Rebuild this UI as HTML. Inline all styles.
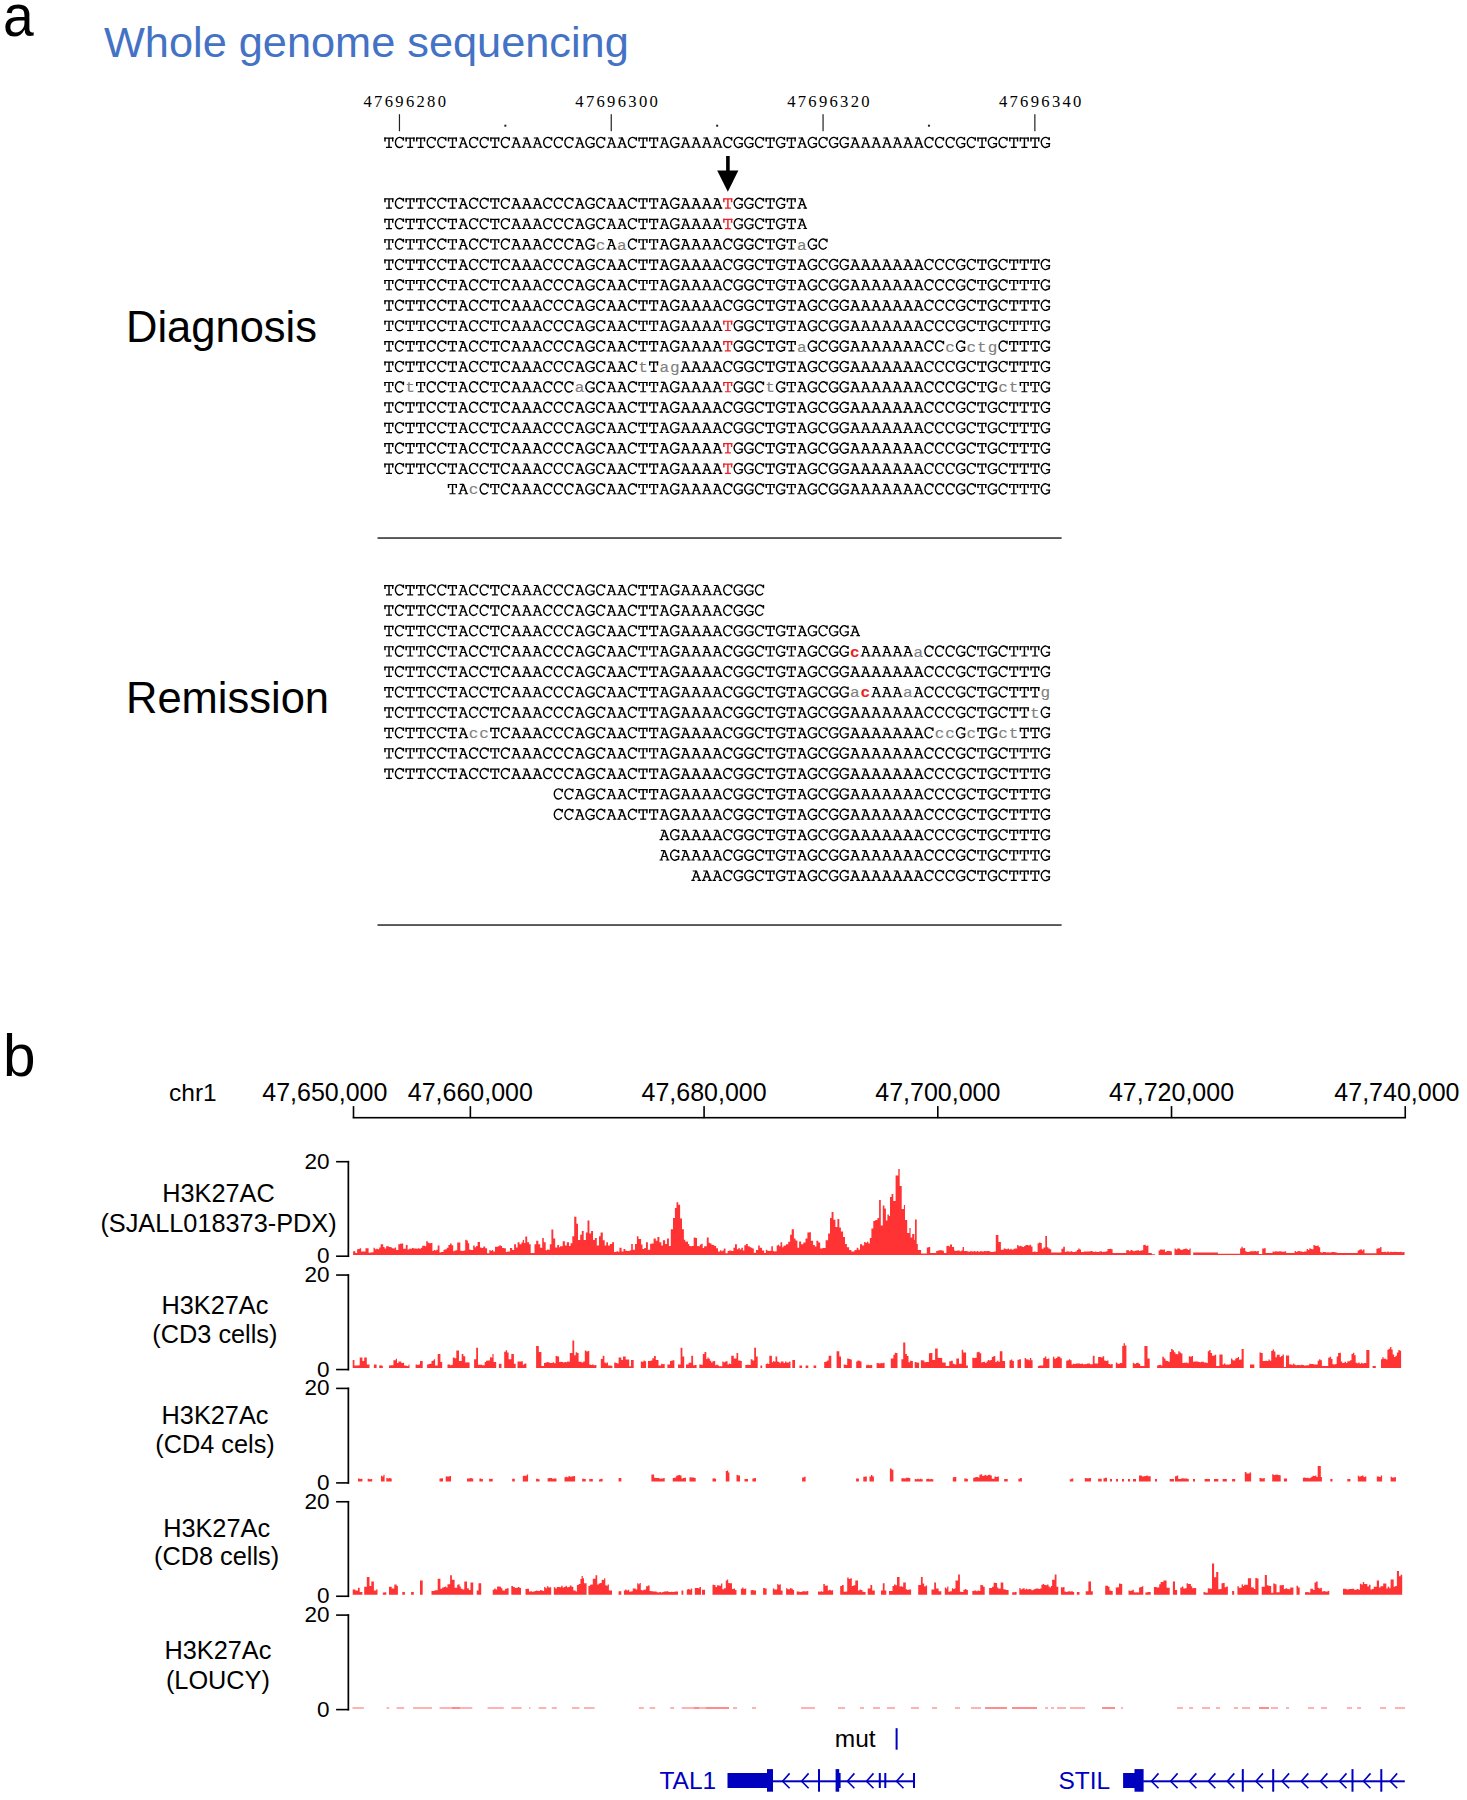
<!DOCTYPE html>
<html><head><meta charset="utf-8"><title>Figure</title>
<style>html,body{margin:0;padding:0;background:#fff;overflow:hidden;} svg{display:block;}</style>
</head><body>
<svg width="1467" height="1800" viewBox="0 0 1467 1800">
<defs><g id="gT" fill="none" stroke="currentColor"><path stroke-width="1.15" d="M0.75 -9.85H9.95M2.4 -0.6H8.45"/><path stroke-width="1.45" d="M1.4 -10.35V-6.45M9.15 -10.35V-6.45M5.45 -9.85V-0.6"/></g>
<g id="gA" fill="none" stroke="currentColor"><path stroke-width="1.12" d="M2.0 -9.95H5.6M3.4 -4.1H7.9M0.6 -0.6H4.1M6.9 -0.6H10.5"/><path stroke-width="1.25" d="M5.45 -10.3L2.1 -0.6"/><path stroke-width="1.5" d="M5.55 -10.3L9.1 -0.6"/></g>
<g id="gC" fill="none" stroke="currentColor"><path stroke-width="1.5" d="M9.2 -10.7V-7.2"/><path stroke-width="1.4" d="M8.67 -8.73A4.2 5.1 0 1 0 8.76 -2.31"/></g>
<g id="gG" fill="none" stroke="currentColor"><path stroke-width="1.5" d="M9.0 -10.7V-7.6"/><path stroke-width="1.4" d="M8.67 -8.73A4.2 5.1 0 1 0 7.42 -0.95L9.05 -1.6V-4.35"/><path stroke-width="1.15" d="M5.8 -4.3H10.1"/></g>
</defs>
<rect width="1467" height="1800" fill="#fff"/>
<text x="1.50" y="35.60" font-family="Liberation Sans" font-size="60" fill="#000" text-anchor="start" font-weight="normal" transform="translate(19.2 0) scale(0.92 1) translate(-19.2 0)">a</text>
<text x="104.00" y="56.50" font-family="Liberation Sans" font-size="43.3" fill="#4472C4" text-anchor="start" font-weight="normal" >Whole genome sequencing</text>
<text x="126.00" y="341.70" font-family="Liberation Sans" font-size="43.5" fill="#000" text-anchor="start" font-weight="normal" >Diagnosis</text>
<text x="126.00" y="713.20" font-family="Liberation Sans" font-size="43.5" fill="#000" text-anchor="start" font-weight="normal" >Remission</text>
<text x="363.53 374.12 384.71 395.30 405.89 416.48 427.07 437.66" y="107.3" font-family="Liberation Serif" font-size="16.6" fill="#000">47696280</text>
<rect x="398.85" y="114.2" width="1.2" height="17" fill="#222"/>
<text x="575.34 585.92 596.51 607.11 617.69 628.28 638.88 649.46" y="107.3" font-family="Liberation Serif" font-size="16.6" fill="#000">47696300</text>
<rect x="610.65" y="114.2" width="1.2" height="17" fill="#222"/>
<text x="787.13 797.72 808.32 818.90 829.49 840.09 850.67 861.26" y="107.3" font-family="Liberation Serif" font-size="16.6" fill="#000">47696320</text>
<rect x="822.46" y="114.2" width="1.2" height="17" fill="#222"/>
<text x="998.93 1009.52 1020.12 1030.70 1041.30 1051.88 1062.47 1073.07" y="107.3" font-family="Liberation Serif" font-size="16.6" fill="#000">47696340</text>
<rect x="1034.26" y="114.2" width="1.2" height="17" fill="#222"/>
<rect x="504.36" y="124.7" width="2" height="2" fill="#222"/>
<rect x="716.15" y="124.7" width="2" height="2" fill="#222"/>
<rect x="927.95" y="124.7" width="2" height="2" fill="#222"/>
<use href="#gT" x="383.57" y="147.90"/>
<use href="#gC" x="394.16" y="147.90"/>
<use href="#gT" x="404.75" y="147.90"/>
<use href="#gT" x="415.34" y="147.90"/>
<use href="#gC" x="425.93" y="147.90"/>
<use href="#gC" x="436.52" y="147.90"/>
<use href="#gT" x="447.11" y="147.90"/>
<use href="#gA" x="457.70" y="147.90"/>
<use href="#gC" x="468.29" y="147.90"/>
<use href="#gC" x="478.88" y="147.90"/>
<use href="#gT" x="489.47" y="147.90"/>
<use href="#gC" x="500.06" y="147.90"/>
<use href="#gA" x="510.65" y="147.90"/>
<use href="#gA" x="521.24" y="147.90"/>
<use href="#gA" x="531.83" y="147.90"/>
<use href="#gC" x="542.42" y="147.90"/>
<use href="#gC" x="553.01" y="147.90"/>
<use href="#gC" x="563.60" y="147.90"/>
<use href="#gA" x="574.19" y="147.90"/>
<use href="#gG" x="584.78" y="147.90"/>
<use href="#gC" x="595.37" y="147.90"/>
<use href="#gA" x="605.96" y="147.90"/>
<use href="#gA" x="616.55" y="147.90"/>
<use href="#gC" x="627.14" y="147.90"/>
<use href="#gT" x="637.73" y="147.90"/>
<use href="#gT" x="648.32" y="147.90"/>
<use href="#gA" x="658.91" y="147.90"/>
<use href="#gG" x="669.50" y="147.90"/>
<use href="#gA" x="680.09" y="147.90"/>
<use href="#gA" x="690.68" y="147.90"/>
<use href="#gA" x="701.27" y="147.90"/>
<use href="#gA" x="711.86" y="147.90"/>
<use href="#gC" x="722.45" y="147.90"/>
<use href="#gG" x="733.04" y="147.90"/>
<use href="#gG" x="743.63" y="147.90"/>
<use href="#gC" x="754.22" y="147.90"/>
<use href="#gT" x="764.81" y="147.90"/>
<use href="#gG" x="775.40" y="147.90"/>
<use href="#gT" x="785.99" y="147.90"/>
<use href="#gA" x="796.58" y="147.90"/>
<use href="#gG" x="807.17" y="147.90"/>
<use href="#gC" x="817.76" y="147.90"/>
<use href="#gG" x="828.35" y="147.90"/>
<use href="#gG" x="838.94" y="147.90"/>
<use href="#gA" x="849.53" y="147.90"/>
<use href="#gA" x="860.12" y="147.90"/>
<use href="#gA" x="870.71" y="147.90"/>
<use href="#gA" x="881.30" y="147.90"/>
<use href="#gA" x="891.89" y="147.90"/>
<use href="#gA" x="902.48" y="147.90"/>
<use href="#gA" x="913.07" y="147.90"/>
<use href="#gC" x="923.66" y="147.90"/>
<use href="#gC" x="934.25" y="147.90"/>
<use href="#gC" x="944.84" y="147.90"/>
<use href="#gG" x="955.43" y="147.90"/>
<use href="#gC" x="966.02" y="147.90"/>
<use href="#gT" x="976.61" y="147.90"/>
<use href="#gG" x="987.20" y="147.90"/>
<use href="#gC" x="997.79" y="147.90"/>
<use href="#gT" x="1008.38" y="147.90"/>
<use href="#gT" x="1018.97" y="147.90"/>
<use href="#gT" x="1029.56" y="147.90"/>
<use href="#gG" x="1040.15" y="147.90"/>
<rect x="726.1" y="156" width="3.6" height="15.5" fill="#000"/>
<polygon points="717.2,170.4 738.4,170.4 727.8,191.8" fill="#000"/>
<use href="#gT" x="383.57" y="208.75"/>
<use href="#gC" x="394.16" y="208.75"/>
<use href="#gT" x="404.75" y="208.75"/>
<use href="#gT" x="415.34" y="208.75"/>
<use href="#gC" x="425.93" y="208.75"/>
<use href="#gC" x="436.52" y="208.75"/>
<use href="#gT" x="447.11" y="208.75"/>
<use href="#gA" x="457.70" y="208.75"/>
<use href="#gC" x="468.29" y="208.75"/>
<use href="#gC" x="478.88" y="208.75"/>
<use href="#gT" x="489.47" y="208.75"/>
<use href="#gC" x="500.06" y="208.75"/>
<use href="#gA" x="510.65" y="208.75"/>
<use href="#gA" x="521.24" y="208.75"/>
<use href="#gA" x="531.83" y="208.75"/>
<use href="#gC" x="542.42" y="208.75"/>
<use href="#gC" x="553.01" y="208.75"/>
<use href="#gC" x="563.60" y="208.75"/>
<use href="#gA" x="574.19" y="208.75"/>
<use href="#gG" x="584.78" y="208.75"/>
<use href="#gC" x="595.37" y="208.75"/>
<use href="#gA" x="605.96" y="208.75"/>
<use href="#gA" x="616.55" y="208.75"/>
<use href="#gC" x="627.14" y="208.75"/>
<use href="#gT" x="637.73" y="208.75"/>
<use href="#gT" x="648.32" y="208.75"/>
<use href="#gA" x="658.91" y="208.75"/>
<use href="#gG" x="669.50" y="208.75"/>
<use href="#gA" x="680.09" y="208.75"/>
<use href="#gA" x="690.68" y="208.75"/>
<use href="#gA" x="701.27" y="208.75"/>
<use href="#gA" x="711.86" y="208.75"/>
<use href="#gT" x="722.45" y="208.75" color="#ec1f24"/>
<use href="#gG" x="733.04" y="208.75"/>
<use href="#gG" x="743.63" y="208.75"/>
<use href="#gC" x="754.22" y="208.75"/>
<use href="#gT" x="764.81" y="208.75"/>
<use href="#gG" x="775.40" y="208.75"/>
<use href="#gT" x="785.99" y="208.75"/>
<use href="#gA" x="796.58" y="208.75"/>
<use href="#gT" x="383.57" y="229.15"/>
<use href="#gC" x="394.16" y="229.15"/>
<use href="#gT" x="404.75" y="229.15"/>
<use href="#gT" x="415.34" y="229.15"/>
<use href="#gC" x="425.93" y="229.15"/>
<use href="#gC" x="436.52" y="229.15"/>
<use href="#gT" x="447.11" y="229.15"/>
<use href="#gA" x="457.70" y="229.15"/>
<use href="#gC" x="468.29" y="229.15"/>
<use href="#gC" x="478.88" y="229.15"/>
<use href="#gT" x="489.47" y="229.15"/>
<use href="#gC" x="500.06" y="229.15"/>
<use href="#gA" x="510.65" y="229.15"/>
<use href="#gA" x="521.24" y="229.15"/>
<use href="#gA" x="531.83" y="229.15"/>
<use href="#gC" x="542.42" y="229.15"/>
<use href="#gC" x="553.01" y="229.15"/>
<use href="#gC" x="563.60" y="229.15"/>
<use href="#gA" x="574.19" y="229.15"/>
<use href="#gG" x="584.78" y="229.15"/>
<use href="#gC" x="595.37" y="229.15"/>
<use href="#gA" x="605.96" y="229.15"/>
<use href="#gA" x="616.55" y="229.15"/>
<use href="#gC" x="627.14" y="229.15"/>
<use href="#gT" x="637.73" y="229.15"/>
<use href="#gT" x="648.32" y="229.15"/>
<use href="#gA" x="658.91" y="229.15"/>
<use href="#gG" x="669.50" y="229.15"/>
<use href="#gA" x="680.09" y="229.15"/>
<use href="#gA" x="690.68" y="229.15"/>
<use href="#gA" x="701.27" y="229.15"/>
<use href="#gA" x="711.86" y="229.15"/>
<use href="#gT" x="722.45" y="229.15" color="#ec1f24"/>
<use href="#gG" x="733.04" y="229.15"/>
<use href="#gG" x="743.63" y="229.15"/>
<use href="#gC" x="754.22" y="229.15"/>
<use href="#gT" x="764.81" y="229.15"/>
<use href="#gG" x="775.40" y="229.15"/>
<use href="#gT" x="785.99" y="229.15"/>
<use href="#gA" x="796.58" y="229.15"/>
<use href="#gT" x="383.57" y="249.55"/>
<use href="#gC" x="394.16" y="249.55"/>
<use href="#gT" x="404.75" y="249.55"/>
<use href="#gT" x="415.34" y="249.55"/>
<use href="#gC" x="425.93" y="249.55"/>
<use href="#gC" x="436.52" y="249.55"/>
<use href="#gT" x="447.11" y="249.55"/>
<use href="#gA" x="457.70" y="249.55"/>
<use href="#gC" x="468.29" y="249.55"/>
<use href="#gC" x="478.88" y="249.55"/>
<use href="#gT" x="489.47" y="249.55"/>
<use href="#gC" x="500.06" y="249.55"/>
<use href="#gA" x="510.65" y="249.55"/>
<use href="#gA" x="521.24" y="249.55"/>
<use href="#gA" x="531.83" y="249.55"/>
<use href="#gC" x="542.42" y="249.55"/>
<use href="#gC" x="553.01" y="249.55"/>
<use href="#gC" x="563.60" y="249.55"/>
<use href="#gA" x="574.19" y="249.55"/>
<use href="#gG" x="584.78" y="249.55"/>
<use href="#gA" x="605.96" y="249.55"/>
<use href="#gC" x="627.14" y="249.55"/>
<use href="#gT" x="637.73" y="249.55"/>
<use href="#gT" x="648.32" y="249.55"/>
<use href="#gA" x="658.91" y="249.55"/>
<use href="#gG" x="669.50" y="249.55"/>
<use href="#gA" x="680.09" y="249.55"/>
<use href="#gA" x="690.68" y="249.55"/>
<use href="#gA" x="701.27" y="249.55"/>
<use href="#gA" x="711.86" y="249.55"/>
<use href="#gC" x="722.45" y="249.55"/>
<use href="#gG" x="733.04" y="249.55"/>
<use href="#gG" x="743.63" y="249.55"/>
<use href="#gC" x="754.22" y="249.55"/>
<use href="#gT" x="764.81" y="249.55"/>
<use href="#gG" x="775.40" y="249.55"/>
<use href="#gT" x="785.99" y="249.55"/>
<use href="#gG" x="807.17" y="249.55"/>
<use href="#gC" x="817.76" y="249.55"/>
<text x="556.87 576.66 744.92" y="249.55" font-family="Liberation Mono" font-size="15.0" fill="#7f7f7f" font-weight="normal" stroke="#7f7f7f" stroke-width="0.12" transform="scale(1.07 1)">caa</text>
<use href="#gT" x="383.57" y="269.95"/>
<use href="#gC" x="394.16" y="269.95"/>
<use href="#gT" x="404.75" y="269.95"/>
<use href="#gT" x="415.34" y="269.95"/>
<use href="#gC" x="425.93" y="269.95"/>
<use href="#gC" x="436.52" y="269.95"/>
<use href="#gT" x="447.11" y="269.95"/>
<use href="#gA" x="457.70" y="269.95"/>
<use href="#gC" x="468.29" y="269.95"/>
<use href="#gC" x="478.88" y="269.95"/>
<use href="#gT" x="489.47" y="269.95"/>
<use href="#gC" x="500.06" y="269.95"/>
<use href="#gA" x="510.65" y="269.95"/>
<use href="#gA" x="521.24" y="269.95"/>
<use href="#gA" x="531.83" y="269.95"/>
<use href="#gC" x="542.42" y="269.95"/>
<use href="#gC" x="553.01" y="269.95"/>
<use href="#gC" x="563.60" y="269.95"/>
<use href="#gA" x="574.19" y="269.95"/>
<use href="#gG" x="584.78" y="269.95"/>
<use href="#gC" x="595.37" y="269.95"/>
<use href="#gA" x="605.96" y="269.95"/>
<use href="#gA" x="616.55" y="269.95"/>
<use href="#gC" x="627.14" y="269.95"/>
<use href="#gT" x="637.73" y="269.95"/>
<use href="#gT" x="648.32" y="269.95"/>
<use href="#gA" x="658.91" y="269.95"/>
<use href="#gG" x="669.50" y="269.95"/>
<use href="#gA" x="680.09" y="269.95"/>
<use href="#gA" x="690.68" y="269.95"/>
<use href="#gA" x="701.27" y="269.95"/>
<use href="#gA" x="711.86" y="269.95"/>
<use href="#gC" x="722.45" y="269.95"/>
<use href="#gG" x="733.04" y="269.95"/>
<use href="#gG" x="743.63" y="269.95"/>
<use href="#gC" x="754.22" y="269.95"/>
<use href="#gT" x="764.81" y="269.95"/>
<use href="#gG" x="775.40" y="269.95"/>
<use href="#gT" x="785.99" y="269.95"/>
<use href="#gA" x="796.58" y="269.95"/>
<use href="#gG" x="807.17" y="269.95"/>
<use href="#gC" x="817.76" y="269.95"/>
<use href="#gG" x="828.35" y="269.95"/>
<use href="#gG" x="838.94" y="269.95"/>
<use href="#gA" x="849.53" y="269.95"/>
<use href="#gA" x="860.12" y="269.95"/>
<use href="#gA" x="870.71" y="269.95"/>
<use href="#gA" x="881.30" y="269.95"/>
<use href="#gA" x="891.89" y="269.95"/>
<use href="#gA" x="902.48" y="269.95"/>
<use href="#gA" x="913.07" y="269.95"/>
<use href="#gC" x="923.66" y="269.95"/>
<use href="#gC" x="934.25" y="269.95"/>
<use href="#gC" x="944.84" y="269.95"/>
<use href="#gG" x="955.43" y="269.95"/>
<use href="#gC" x="966.02" y="269.95"/>
<use href="#gT" x="976.61" y="269.95"/>
<use href="#gG" x="987.20" y="269.95"/>
<use href="#gC" x="997.79" y="269.95"/>
<use href="#gT" x="1008.38" y="269.95"/>
<use href="#gT" x="1018.97" y="269.95"/>
<use href="#gT" x="1029.56" y="269.95"/>
<use href="#gG" x="1040.15" y="269.95"/>
<use href="#gT" x="383.57" y="290.35"/>
<use href="#gC" x="394.16" y="290.35"/>
<use href="#gT" x="404.75" y="290.35"/>
<use href="#gT" x="415.34" y="290.35"/>
<use href="#gC" x="425.93" y="290.35"/>
<use href="#gC" x="436.52" y="290.35"/>
<use href="#gT" x="447.11" y="290.35"/>
<use href="#gA" x="457.70" y="290.35"/>
<use href="#gC" x="468.29" y="290.35"/>
<use href="#gC" x="478.88" y="290.35"/>
<use href="#gT" x="489.47" y="290.35"/>
<use href="#gC" x="500.06" y="290.35"/>
<use href="#gA" x="510.65" y="290.35"/>
<use href="#gA" x="521.24" y="290.35"/>
<use href="#gA" x="531.83" y="290.35"/>
<use href="#gC" x="542.42" y="290.35"/>
<use href="#gC" x="553.01" y="290.35"/>
<use href="#gC" x="563.60" y="290.35"/>
<use href="#gA" x="574.19" y="290.35"/>
<use href="#gG" x="584.78" y="290.35"/>
<use href="#gC" x="595.37" y="290.35"/>
<use href="#gA" x="605.96" y="290.35"/>
<use href="#gA" x="616.55" y="290.35"/>
<use href="#gC" x="627.14" y="290.35"/>
<use href="#gT" x="637.73" y="290.35"/>
<use href="#gT" x="648.32" y="290.35"/>
<use href="#gA" x="658.91" y="290.35"/>
<use href="#gG" x="669.50" y="290.35"/>
<use href="#gA" x="680.09" y="290.35"/>
<use href="#gA" x="690.68" y="290.35"/>
<use href="#gA" x="701.27" y="290.35"/>
<use href="#gA" x="711.86" y="290.35"/>
<use href="#gC" x="722.45" y="290.35"/>
<use href="#gG" x="733.04" y="290.35"/>
<use href="#gG" x="743.63" y="290.35"/>
<use href="#gC" x="754.22" y="290.35"/>
<use href="#gT" x="764.81" y="290.35"/>
<use href="#gG" x="775.40" y="290.35"/>
<use href="#gT" x="785.99" y="290.35"/>
<use href="#gA" x="796.58" y="290.35"/>
<use href="#gG" x="807.17" y="290.35"/>
<use href="#gC" x="817.76" y="290.35"/>
<use href="#gG" x="828.35" y="290.35"/>
<use href="#gG" x="838.94" y="290.35"/>
<use href="#gA" x="849.53" y="290.35"/>
<use href="#gA" x="860.12" y="290.35"/>
<use href="#gA" x="870.71" y="290.35"/>
<use href="#gA" x="881.30" y="290.35"/>
<use href="#gA" x="891.89" y="290.35"/>
<use href="#gA" x="902.48" y="290.35"/>
<use href="#gA" x="913.07" y="290.35"/>
<use href="#gC" x="923.66" y="290.35"/>
<use href="#gC" x="934.25" y="290.35"/>
<use href="#gC" x="944.84" y="290.35"/>
<use href="#gG" x="955.43" y="290.35"/>
<use href="#gC" x="966.02" y="290.35"/>
<use href="#gT" x="976.61" y="290.35"/>
<use href="#gG" x="987.20" y="290.35"/>
<use href="#gC" x="997.79" y="290.35"/>
<use href="#gT" x="1008.38" y="290.35"/>
<use href="#gT" x="1018.97" y="290.35"/>
<use href="#gT" x="1029.56" y="290.35"/>
<use href="#gG" x="1040.15" y="290.35"/>
<use href="#gT" x="383.57" y="310.75"/>
<use href="#gC" x="394.16" y="310.75"/>
<use href="#gT" x="404.75" y="310.75"/>
<use href="#gT" x="415.34" y="310.75"/>
<use href="#gC" x="425.93" y="310.75"/>
<use href="#gC" x="436.52" y="310.75"/>
<use href="#gT" x="447.11" y="310.75"/>
<use href="#gA" x="457.70" y="310.75"/>
<use href="#gC" x="468.29" y="310.75"/>
<use href="#gC" x="478.88" y="310.75"/>
<use href="#gT" x="489.47" y="310.75"/>
<use href="#gC" x="500.06" y="310.75"/>
<use href="#gA" x="510.65" y="310.75"/>
<use href="#gA" x="521.24" y="310.75"/>
<use href="#gA" x="531.83" y="310.75"/>
<use href="#gC" x="542.42" y="310.75"/>
<use href="#gC" x="553.01" y="310.75"/>
<use href="#gC" x="563.60" y="310.75"/>
<use href="#gA" x="574.19" y="310.75"/>
<use href="#gG" x="584.78" y="310.75"/>
<use href="#gC" x="595.37" y="310.75"/>
<use href="#gA" x="605.96" y="310.75"/>
<use href="#gA" x="616.55" y="310.75"/>
<use href="#gC" x="627.14" y="310.75"/>
<use href="#gT" x="637.73" y="310.75"/>
<use href="#gT" x="648.32" y="310.75"/>
<use href="#gA" x="658.91" y="310.75"/>
<use href="#gG" x="669.50" y="310.75"/>
<use href="#gA" x="680.09" y="310.75"/>
<use href="#gA" x="690.68" y="310.75"/>
<use href="#gA" x="701.27" y="310.75"/>
<use href="#gA" x="711.86" y="310.75"/>
<use href="#gC" x="722.45" y="310.75"/>
<use href="#gG" x="733.04" y="310.75"/>
<use href="#gG" x="743.63" y="310.75"/>
<use href="#gC" x="754.22" y="310.75"/>
<use href="#gT" x="764.81" y="310.75"/>
<use href="#gG" x="775.40" y="310.75"/>
<use href="#gT" x="785.99" y="310.75"/>
<use href="#gA" x="796.58" y="310.75"/>
<use href="#gG" x="807.17" y="310.75"/>
<use href="#gC" x="817.76" y="310.75"/>
<use href="#gG" x="828.35" y="310.75"/>
<use href="#gG" x="838.94" y="310.75"/>
<use href="#gA" x="849.53" y="310.75"/>
<use href="#gA" x="860.12" y="310.75"/>
<use href="#gA" x="870.71" y="310.75"/>
<use href="#gA" x="881.30" y="310.75"/>
<use href="#gA" x="891.89" y="310.75"/>
<use href="#gA" x="902.48" y="310.75"/>
<use href="#gA" x="913.07" y="310.75"/>
<use href="#gC" x="923.66" y="310.75"/>
<use href="#gC" x="934.25" y="310.75"/>
<use href="#gC" x="944.84" y="310.75"/>
<use href="#gG" x="955.43" y="310.75"/>
<use href="#gC" x="966.02" y="310.75"/>
<use href="#gT" x="976.61" y="310.75"/>
<use href="#gG" x="987.20" y="310.75"/>
<use href="#gC" x="997.79" y="310.75"/>
<use href="#gT" x="1008.38" y="310.75"/>
<use href="#gT" x="1018.97" y="310.75"/>
<use href="#gT" x="1029.56" y="310.75"/>
<use href="#gG" x="1040.15" y="310.75"/>
<use href="#gT" x="383.57" y="331.15"/>
<use href="#gC" x="394.16" y="331.15"/>
<use href="#gT" x="404.75" y="331.15"/>
<use href="#gT" x="415.34" y="331.15"/>
<use href="#gC" x="425.93" y="331.15"/>
<use href="#gC" x="436.52" y="331.15"/>
<use href="#gT" x="447.11" y="331.15"/>
<use href="#gA" x="457.70" y="331.15"/>
<use href="#gC" x="468.29" y="331.15"/>
<use href="#gC" x="478.88" y="331.15"/>
<use href="#gT" x="489.47" y="331.15"/>
<use href="#gC" x="500.06" y="331.15"/>
<use href="#gA" x="510.65" y="331.15"/>
<use href="#gA" x="521.24" y="331.15"/>
<use href="#gA" x="531.83" y="331.15"/>
<use href="#gC" x="542.42" y="331.15"/>
<use href="#gC" x="553.01" y="331.15"/>
<use href="#gC" x="563.60" y="331.15"/>
<use href="#gA" x="574.19" y="331.15"/>
<use href="#gG" x="584.78" y="331.15"/>
<use href="#gC" x="595.37" y="331.15"/>
<use href="#gA" x="605.96" y="331.15"/>
<use href="#gA" x="616.55" y="331.15"/>
<use href="#gC" x="627.14" y="331.15"/>
<use href="#gT" x="637.73" y="331.15"/>
<use href="#gT" x="648.32" y="331.15"/>
<use href="#gA" x="658.91" y="331.15"/>
<use href="#gG" x="669.50" y="331.15"/>
<use href="#gA" x="680.09" y="331.15"/>
<use href="#gA" x="690.68" y="331.15"/>
<use href="#gA" x="701.27" y="331.15"/>
<use href="#gA" x="711.86" y="331.15"/>
<use href="#gT" x="722.45" y="331.15" color="#ec1f24"/>
<use href="#gG" x="733.04" y="331.15"/>
<use href="#gG" x="743.63" y="331.15"/>
<use href="#gC" x="754.22" y="331.15"/>
<use href="#gT" x="764.81" y="331.15"/>
<use href="#gG" x="775.40" y="331.15"/>
<use href="#gT" x="785.99" y="331.15"/>
<use href="#gA" x="796.58" y="331.15"/>
<use href="#gG" x="807.17" y="331.15"/>
<use href="#gC" x="817.76" y="331.15"/>
<use href="#gG" x="828.35" y="331.15"/>
<use href="#gG" x="838.94" y="331.15"/>
<use href="#gA" x="849.53" y="331.15"/>
<use href="#gA" x="860.12" y="331.15"/>
<use href="#gA" x="870.71" y="331.15"/>
<use href="#gA" x="881.30" y="331.15"/>
<use href="#gA" x="891.89" y="331.15"/>
<use href="#gA" x="902.48" y="331.15"/>
<use href="#gA" x="913.07" y="331.15"/>
<use href="#gC" x="923.66" y="331.15"/>
<use href="#gC" x="934.25" y="331.15"/>
<use href="#gC" x="944.84" y="331.15"/>
<use href="#gG" x="955.43" y="331.15"/>
<use href="#gC" x="966.02" y="331.15"/>
<use href="#gT" x="976.61" y="331.15"/>
<use href="#gG" x="987.20" y="331.15"/>
<use href="#gC" x="997.79" y="331.15"/>
<use href="#gT" x="1008.38" y="331.15"/>
<use href="#gT" x="1018.97" y="331.15"/>
<use href="#gT" x="1029.56" y="331.15"/>
<use href="#gG" x="1040.15" y="331.15"/>
<use href="#gT" x="383.57" y="351.55"/>
<use href="#gC" x="394.16" y="351.55"/>
<use href="#gT" x="404.75" y="351.55"/>
<use href="#gT" x="415.34" y="351.55"/>
<use href="#gC" x="425.93" y="351.55"/>
<use href="#gC" x="436.52" y="351.55"/>
<use href="#gT" x="447.11" y="351.55"/>
<use href="#gA" x="457.70" y="351.55"/>
<use href="#gC" x="468.29" y="351.55"/>
<use href="#gC" x="478.88" y="351.55"/>
<use href="#gT" x="489.47" y="351.55"/>
<use href="#gC" x="500.06" y="351.55"/>
<use href="#gA" x="510.65" y="351.55"/>
<use href="#gA" x="521.24" y="351.55"/>
<use href="#gA" x="531.83" y="351.55"/>
<use href="#gC" x="542.42" y="351.55"/>
<use href="#gC" x="553.01" y="351.55"/>
<use href="#gC" x="563.60" y="351.55"/>
<use href="#gA" x="574.19" y="351.55"/>
<use href="#gG" x="584.78" y="351.55"/>
<use href="#gC" x="595.37" y="351.55"/>
<use href="#gA" x="605.96" y="351.55"/>
<use href="#gA" x="616.55" y="351.55"/>
<use href="#gC" x="627.14" y="351.55"/>
<use href="#gT" x="637.73" y="351.55"/>
<use href="#gT" x="648.32" y="351.55"/>
<use href="#gA" x="658.91" y="351.55"/>
<use href="#gG" x="669.50" y="351.55"/>
<use href="#gA" x="680.09" y="351.55"/>
<use href="#gA" x="690.68" y="351.55"/>
<use href="#gA" x="701.27" y="351.55"/>
<use href="#gA" x="711.86" y="351.55"/>
<use href="#gT" x="722.45" y="351.55" color="#ec1f24"/>
<use href="#gG" x="733.04" y="351.55"/>
<use href="#gG" x="743.63" y="351.55"/>
<use href="#gC" x="754.22" y="351.55"/>
<use href="#gT" x="764.81" y="351.55"/>
<use href="#gG" x="775.40" y="351.55"/>
<use href="#gT" x="785.99" y="351.55"/>
<use href="#gG" x="807.17" y="351.55"/>
<use href="#gC" x="817.76" y="351.55"/>
<use href="#gG" x="828.35" y="351.55"/>
<use href="#gG" x="838.94" y="351.55"/>
<use href="#gA" x="849.53" y="351.55"/>
<use href="#gA" x="860.12" y="351.55"/>
<use href="#gA" x="870.71" y="351.55"/>
<use href="#gA" x="881.30" y="351.55"/>
<use href="#gA" x="891.89" y="351.55"/>
<use href="#gA" x="902.48" y="351.55"/>
<use href="#gA" x="913.07" y="351.55"/>
<use href="#gC" x="923.66" y="351.55"/>
<use href="#gC" x="934.25" y="351.55"/>
<use href="#gG" x="955.43" y="351.55"/>
<use href="#gC" x="997.79" y="351.55"/>
<use href="#gT" x="1008.38" y="351.55"/>
<use href="#gT" x="1018.97" y="351.55"/>
<use href="#gT" x="1029.56" y="351.55"/>
<use href="#gG" x="1040.15" y="351.55"/>
<text x="744.92 883.48 903.27 913.17 923.07" y="351.55" font-family="Liberation Mono" font-size="15.0" fill="#7f7f7f" font-weight="normal" stroke="#7f7f7f" stroke-width="0.12" transform="scale(1.07 1)">acctg</text>
<use href="#gT" x="383.57" y="371.95"/>
<use href="#gC" x="394.16" y="371.95"/>
<use href="#gT" x="404.75" y="371.95"/>
<use href="#gT" x="415.34" y="371.95"/>
<use href="#gC" x="425.93" y="371.95"/>
<use href="#gC" x="436.52" y="371.95"/>
<use href="#gT" x="447.11" y="371.95"/>
<use href="#gA" x="457.70" y="371.95"/>
<use href="#gC" x="468.29" y="371.95"/>
<use href="#gC" x="478.88" y="371.95"/>
<use href="#gT" x="489.47" y="371.95"/>
<use href="#gC" x="500.06" y="371.95"/>
<use href="#gA" x="510.65" y="371.95"/>
<use href="#gA" x="521.24" y="371.95"/>
<use href="#gA" x="531.83" y="371.95"/>
<use href="#gC" x="542.42" y="371.95"/>
<use href="#gC" x="553.01" y="371.95"/>
<use href="#gC" x="563.60" y="371.95"/>
<use href="#gA" x="574.19" y="371.95"/>
<use href="#gG" x="584.78" y="371.95"/>
<use href="#gC" x="595.37" y="371.95"/>
<use href="#gA" x="605.96" y="371.95"/>
<use href="#gA" x="616.55" y="371.95"/>
<use href="#gC" x="627.14" y="371.95"/>
<use href="#gT" x="648.32" y="371.95"/>
<use href="#gA" x="680.09" y="371.95"/>
<use href="#gA" x="690.68" y="371.95"/>
<use href="#gA" x="701.27" y="371.95"/>
<use href="#gA" x="711.86" y="371.95"/>
<use href="#gC" x="722.45" y="371.95"/>
<use href="#gG" x="733.04" y="371.95"/>
<use href="#gG" x="743.63" y="371.95"/>
<use href="#gC" x="754.22" y="371.95"/>
<use href="#gT" x="764.81" y="371.95"/>
<use href="#gG" x="775.40" y="371.95"/>
<use href="#gT" x="785.99" y="371.95"/>
<use href="#gA" x="796.58" y="371.95"/>
<use href="#gG" x="807.17" y="371.95"/>
<use href="#gC" x="817.76" y="371.95"/>
<use href="#gG" x="828.35" y="371.95"/>
<use href="#gG" x="838.94" y="371.95"/>
<use href="#gA" x="849.53" y="371.95"/>
<use href="#gA" x="860.12" y="371.95"/>
<use href="#gA" x="870.71" y="371.95"/>
<use href="#gA" x="881.30" y="371.95"/>
<use href="#gA" x="891.89" y="371.95"/>
<use href="#gA" x="902.48" y="371.95"/>
<use href="#gA" x="913.07" y="371.95"/>
<use href="#gC" x="923.66" y="371.95"/>
<use href="#gC" x="934.25" y="371.95"/>
<use href="#gC" x="944.84" y="371.95"/>
<use href="#gG" x="955.43" y="371.95"/>
<use href="#gC" x="966.02" y="371.95"/>
<use href="#gT" x="976.61" y="371.95"/>
<use href="#gG" x="987.20" y="371.95"/>
<use href="#gC" x="997.79" y="371.95"/>
<use href="#gT" x="1008.38" y="371.95"/>
<use href="#gT" x="1018.97" y="371.95"/>
<use href="#gT" x="1029.56" y="371.95"/>
<use href="#gG" x="1040.15" y="371.95"/>
<text x="596.46 616.25 626.15" y="371.95" font-family="Liberation Mono" font-size="15.0" fill="#7f7f7f" font-weight="normal" stroke="#7f7f7f" stroke-width="0.12" transform="scale(1.07 1)">tag</text>
<use href="#gT" x="383.57" y="392.35"/>
<use href="#gC" x="394.16" y="392.35"/>
<use href="#gT" x="415.34" y="392.35"/>
<use href="#gC" x="425.93" y="392.35"/>
<use href="#gC" x="436.52" y="392.35"/>
<use href="#gT" x="447.11" y="392.35"/>
<use href="#gA" x="457.70" y="392.35"/>
<use href="#gC" x="468.29" y="392.35"/>
<use href="#gC" x="478.88" y="392.35"/>
<use href="#gT" x="489.47" y="392.35"/>
<use href="#gC" x="500.06" y="392.35"/>
<use href="#gA" x="510.65" y="392.35"/>
<use href="#gA" x="521.24" y="392.35"/>
<use href="#gA" x="531.83" y="392.35"/>
<use href="#gC" x="542.42" y="392.35"/>
<use href="#gC" x="553.01" y="392.35"/>
<use href="#gC" x="563.60" y="392.35"/>
<use href="#gG" x="584.78" y="392.35"/>
<use href="#gC" x="595.37" y="392.35"/>
<use href="#gA" x="605.96" y="392.35"/>
<use href="#gA" x="616.55" y="392.35"/>
<use href="#gC" x="627.14" y="392.35"/>
<use href="#gT" x="637.73" y="392.35"/>
<use href="#gT" x="648.32" y="392.35"/>
<use href="#gA" x="658.91" y="392.35"/>
<use href="#gG" x="669.50" y="392.35"/>
<use href="#gA" x="680.09" y="392.35"/>
<use href="#gA" x="690.68" y="392.35"/>
<use href="#gA" x="701.27" y="392.35"/>
<use href="#gA" x="711.86" y="392.35"/>
<use href="#gT" x="722.45" y="392.35" color="#ec1f24"/>
<use href="#gG" x="733.04" y="392.35"/>
<use href="#gG" x="743.63" y="392.35"/>
<use href="#gC" x="754.22" y="392.35"/>
<use href="#gG" x="775.40" y="392.35"/>
<use href="#gT" x="785.99" y="392.35"/>
<use href="#gA" x="796.58" y="392.35"/>
<use href="#gG" x="807.17" y="392.35"/>
<use href="#gC" x="817.76" y="392.35"/>
<use href="#gG" x="828.35" y="392.35"/>
<use href="#gG" x="838.94" y="392.35"/>
<use href="#gA" x="849.53" y="392.35"/>
<use href="#gA" x="860.12" y="392.35"/>
<use href="#gA" x="870.71" y="392.35"/>
<use href="#gA" x="881.30" y="392.35"/>
<use href="#gA" x="891.89" y="392.35"/>
<use href="#gA" x="902.48" y="392.35"/>
<use href="#gA" x="913.07" y="392.35"/>
<use href="#gC" x="923.66" y="392.35"/>
<use href="#gC" x="934.25" y="392.35"/>
<use href="#gC" x="944.84" y="392.35"/>
<use href="#gG" x="955.43" y="392.35"/>
<use href="#gC" x="966.02" y="392.35"/>
<use href="#gT" x="976.61" y="392.35"/>
<use href="#gG" x="987.20" y="392.35"/>
<use href="#gT" x="1018.97" y="392.35"/>
<use href="#gT" x="1029.56" y="392.35"/>
<use href="#gG" x="1040.15" y="392.35"/>
<text x="378.72 537.07 715.22 932.96 942.86" y="392.35" font-family="Liberation Mono" font-size="15.0" fill="#7f7f7f" font-weight="normal" stroke="#7f7f7f" stroke-width="0.12" transform="scale(1.07 1)">tatct</text>
<use href="#gT" x="383.57" y="412.75"/>
<use href="#gC" x="394.16" y="412.75"/>
<use href="#gT" x="404.75" y="412.75"/>
<use href="#gT" x="415.34" y="412.75"/>
<use href="#gC" x="425.93" y="412.75"/>
<use href="#gC" x="436.52" y="412.75"/>
<use href="#gT" x="447.11" y="412.75"/>
<use href="#gA" x="457.70" y="412.75"/>
<use href="#gC" x="468.29" y="412.75"/>
<use href="#gC" x="478.88" y="412.75"/>
<use href="#gT" x="489.47" y="412.75"/>
<use href="#gC" x="500.06" y="412.75"/>
<use href="#gA" x="510.65" y="412.75"/>
<use href="#gA" x="521.24" y="412.75"/>
<use href="#gA" x="531.83" y="412.75"/>
<use href="#gC" x="542.42" y="412.75"/>
<use href="#gC" x="553.01" y="412.75"/>
<use href="#gC" x="563.60" y="412.75"/>
<use href="#gA" x="574.19" y="412.75"/>
<use href="#gG" x="584.78" y="412.75"/>
<use href="#gC" x="595.37" y="412.75"/>
<use href="#gA" x="605.96" y="412.75"/>
<use href="#gA" x="616.55" y="412.75"/>
<use href="#gC" x="627.14" y="412.75"/>
<use href="#gT" x="637.73" y="412.75"/>
<use href="#gT" x="648.32" y="412.75"/>
<use href="#gA" x="658.91" y="412.75"/>
<use href="#gG" x="669.50" y="412.75"/>
<use href="#gA" x="680.09" y="412.75"/>
<use href="#gA" x="690.68" y="412.75"/>
<use href="#gA" x="701.27" y="412.75"/>
<use href="#gA" x="711.86" y="412.75"/>
<use href="#gC" x="722.45" y="412.75"/>
<use href="#gG" x="733.04" y="412.75"/>
<use href="#gG" x="743.63" y="412.75"/>
<use href="#gC" x="754.22" y="412.75"/>
<use href="#gT" x="764.81" y="412.75"/>
<use href="#gG" x="775.40" y="412.75"/>
<use href="#gT" x="785.99" y="412.75"/>
<use href="#gA" x="796.58" y="412.75"/>
<use href="#gG" x="807.17" y="412.75"/>
<use href="#gC" x="817.76" y="412.75"/>
<use href="#gG" x="828.35" y="412.75"/>
<use href="#gG" x="838.94" y="412.75"/>
<use href="#gA" x="849.53" y="412.75"/>
<use href="#gA" x="860.12" y="412.75"/>
<use href="#gA" x="870.71" y="412.75"/>
<use href="#gA" x="881.30" y="412.75"/>
<use href="#gA" x="891.89" y="412.75"/>
<use href="#gA" x="902.48" y="412.75"/>
<use href="#gA" x="913.07" y="412.75"/>
<use href="#gC" x="923.66" y="412.75"/>
<use href="#gC" x="934.25" y="412.75"/>
<use href="#gC" x="944.84" y="412.75"/>
<use href="#gG" x="955.43" y="412.75"/>
<use href="#gC" x="966.02" y="412.75"/>
<use href="#gT" x="976.61" y="412.75"/>
<use href="#gG" x="987.20" y="412.75"/>
<use href="#gC" x="997.79" y="412.75"/>
<use href="#gT" x="1008.38" y="412.75"/>
<use href="#gT" x="1018.97" y="412.75"/>
<use href="#gT" x="1029.56" y="412.75"/>
<use href="#gG" x="1040.15" y="412.75"/>
<use href="#gT" x="383.57" y="433.15"/>
<use href="#gC" x="394.16" y="433.15"/>
<use href="#gT" x="404.75" y="433.15"/>
<use href="#gT" x="415.34" y="433.15"/>
<use href="#gC" x="425.93" y="433.15"/>
<use href="#gC" x="436.52" y="433.15"/>
<use href="#gT" x="447.11" y="433.15"/>
<use href="#gA" x="457.70" y="433.15"/>
<use href="#gC" x="468.29" y="433.15"/>
<use href="#gC" x="478.88" y="433.15"/>
<use href="#gT" x="489.47" y="433.15"/>
<use href="#gC" x="500.06" y="433.15"/>
<use href="#gA" x="510.65" y="433.15"/>
<use href="#gA" x="521.24" y="433.15"/>
<use href="#gA" x="531.83" y="433.15"/>
<use href="#gC" x="542.42" y="433.15"/>
<use href="#gC" x="553.01" y="433.15"/>
<use href="#gC" x="563.60" y="433.15"/>
<use href="#gA" x="574.19" y="433.15"/>
<use href="#gG" x="584.78" y="433.15"/>
<use href="#gC" x="595.37" y="433.15"/>
<use href="#gA" x="605.96" y="433.15"/>
<use href="#gA" x="616.55" y="433.15"/>
<use href="#gC" x="627.14" y="433.15"/>
<use href="#gT" x="637.73" y="433.15"/>
<use href="#gT" x="648.32" y="433.15"/>
<use href="#gA" x="658.91" y="433.15"/>
<use href="#gG" x="669.50" y="433.15"/>
<use href="#gA" x="680.09" y="433.15"/>
<use href="#gA" x="690.68" y="433.15"/>
<use href="#gA" x="701.27" y="433.15"/>
<use href="#gA" x="711.86" y="433.15"/>
<use href="#gC" x="722.45" y="433.15"/>
<use href="#gG" x="733.04" y="433.15"/>
<use href="#gG" x="743.63" y="433.15"/>
<use href="#gC" x="754.22" y="433.15"/>
<use href="#gT" x="764.81" y="433.15"/>
<use href="#gG" x="775.40" y="433.15"/>
<use href="#gT" x="785.99" y="433.15"/>
<use href="#gA" x="796.58" y="433.15"/>
<use href="#gG" x="807.17" y="433.15"/>
<use href="#gC" x="817.76" y="433.15"/>
<use href="#gG" x="828.35" y="433.15"/>
<use href="#gG" x="838.94" y="433.15"/>
<use href="#gA" x="849.53" y="433.15"/>
<use href="#gA" x="860.12" y="433.15"/>
<use href="#gA" x="870.71" y="433.15"/>
<use href="#gA" x="881.30" y="433.15"/>
<use href="#gA" x="891.89" y="433.15"/>
<use href="#gA" x="902.48" y="433.15"/>
<use href="#gA" x="913.07" y="433.15"/>
<use href="#gC" x="923.66" y="433.15"/>
<use href="#gC" x="934.25" y="433.15"/>
<use href="#gC" x="944.84" y="433.15"/>
<use href="#gG" x="955.43" y="433.15"/>
<use href="#gC" x="966.02" y="433.15"/>
<use href="#gT" x="976.61" y="433.15"/>
<use href="#gG" x="987.20" y="433.15"/>
<use href="#gC" x="997.79" y="433.15"/>
<use href="#gT" x="1008.38" y="433.15"/>
<use href="#gT" x="1018.97" y="433.15"/>
<use href="#gT" x="1029.56" y="433.15"/>
<use href="#gG" x="1040.15" y="433.15"/>
<use href="#gT" x="383.57" y="453.55"/>
<use href="#gC" x="394.16" y="453.55"/>
<use href="#gT" x="404.75" y="453.55"/>
<use href="#gT" x="415.34" y="453.55"/>
<use href="#gC" x="425.93" y="453.55"/>
<use href="#gC" x="436.52" y="453.55"/>
<use href="#gT" x="447.11" y="453.55"/>
<use href="#gA" x="457.70" y="453.55"/>
<use href="#gC" x="468.29" y="453.55"/>
<use href="#gC" x="478.88" y="453.55"/>
<use href="#gT" x="489.47" y="453.55"/>
<use href="#gC" x="500.06" y="453.55"/>
<use href="#gA" x="510.65" y="453.55"/>
<use href="#gA" x="521.24" y="453.55"/>
<use href="#gA" x="531.83" y="453.55"/>
<use href="#gC" x="542.42" y="453.55"/>
<use href="#gC" x="553.01" y="453.55"/>
<use href="#gC" x="563.60" y="453.55"/>
<use href="#gA" x="574.19" y="453.55"/>
<use href="#gG" x="584.78" y="453.55"/>
<use href="#gC" x="595.37" y="453.55"/>
<use href="#gA" x="605.96" y="453.55"/>
<use href="#gA" x="616.55" y="453.55"/>
<use href="#gC" x="627.14" y="453.55"/>
<use href="#gT" x="637.73" y="453.55"/>
<use href="#gT" x="648.32" y="453.55"/>
<use href="#gA" x="658.91" y="453.55"/>
<use href="#gG" x="669.50" y="453.55"/>
<use href="#gA" x="680.09" y="453.55"/>
<use href="#gA" x="690.68" y="453.55"/>
<use href="#gA" x="701.27" y="453.55"/>
<use href="#gA" x="711.86" y="453.55"/>
<use href="#gT" x="722.45" y="453.55" color="#ec1f24"/>
<use href="#gG" x="733.04" y="453.55"/>
<use href="#gG" x="743.63" y="453.55"/>
<use href="#gC" x="754.22" y="453.55"/>
<use href="#gT" x="764.81" y="453.55"/>
<use href="#gG" x="775.40" y="453.55"/>
<use href="#gT" x="785.99" y="453.55"/>
<use href="#gA" x="796.58" y="453.55"/>
<use href="#gG" x="807.17" y="453.55"/>
<use href="#gC" x="817.76" y="453.55"/>
<use href="#gG" x="828.35" y="453.55"/>
<use href="#gG" x="838.94" y="453.55"/>
<use href="#gA" x="849.53" y="453.55"/>
<use href="#gA" x="860.12" y="453.55"/>
<use href="#gA" x="870.71" y="453.55"/>
<use href="#gA" x="881.30" y="453.55"/>
<use href="#gA" x="891.89" y="453.55"/>
<use href="#gA" x="902.48" y="453.55"/>
<use href="#gA" x="913.07" y="453.55"/>
<use href="#gC" x="923.66" y="453.55"/>
<use href="#gC" x="934.25" y="453.55"/>
<use href="#gC" x="944.84" y="453.55"/>
<use href="#gG" x="955.43" y="453.55"/>
<use href="#gC" x="966.02" y="453.55"/>
<use href="#gT" x="976.61" y="453.55"/>
<use href="#gG" x="987.20" y="453.55"/>
<use href="#gC" x="997.79" y="453.55"/>
<use href="#gT" x="1008.38" y="453.55"/>
<use href="#gT" x="1018.97" y="453.55"/>
<use href="#gT" x="1029.56" y="453.55"/>
<use href="#gG" x="1040.15" y="453.55"/>
<use href="#gT" x="383.57" y="473.95"/>
<use href="#gC" x="394.16" y="473.95"/>
<use href="#gT" x="404.75" y="473.95"/>
<use href="#gT" x="415.34" y="473.95"/>
<use href="#gC" x="425.93" y="473.95"/>
<use href="#gC" x="436.52" y="473.95"/>
<use href="#gT" x="447.11" y="473.95"/>
<use href="#gA" x="457.70" y="473.95"/>
<use href="#gC" x="468.29" y="473.95"/>
<use href="#gC" x="478.88" y="473.95"/>
<use href="#gT" x="489.47" y="473.95"/>
<use href="#gC" x="500.06" y="473.95"/>
<use href="#gA" x="510.65" y="473.95"/>
<use href="#gA" x="521.24" y="473.95"/>
<use href="#gA" x="531.83" y="473.95"/>
<use href="#gC" x="542.42" y="473.95"/>
<use href="#gC" x="553.01" y="473.95"/>
<use href="#gC" x="563.60" y="473.95"/>
<use href="#gA" x="574.19" y="473.95"/>
<use href="#gG" x="584.78" y="473.95"/>
<use href="#gC" x="595.37" y="473.95"/>
<use href="#gA" x="605.96" y="473.95"/>
<use href="#gA" x="616.55" y="473.95"/>
<use href="#gC" x="627.14" y="473.95"/>
<use href="#gT" x="637.73" y="473.95"/>
<use href="#gT" x="648.32" y="473.95"/>
<use href="#gA" x="658.91" y="473.95"/>
<use href="#gG" x="669.50" y="473.95"/>
<use href="#gA" x="680.09" y="473.95"/>
<use href="#gA" x="690.68" y="473.95"/>
<use href="#gA" x="701.27" y="473.95"/>
<use href="#gA" x="711.86" y="473.95"/>
<use href="#gT" x="722.45" y="473.95" color="#ec1f24"/>
<use href="#gG" x="733.04" y="473.95"/>
<use href="#gG" x="743.63" y="473.95"/>
<use href="#gC" x="754.22" y="473.95"/>
<use href="#gT" x="764.81" y="473.95"/>
<use href="#gG" x="775.40" y="473.95"/>
<use href="#gT" x="785.99" y="473.95"/>
<use href="#gA" x="796.58" y="473.95"/>
<use href="#gG" x="807.17" y="473.95"/>
<use href="#gC" x="817.76" y="473.95"/>
<use href="#gG" x="828.35" y="473.95"/>
<use href="#gG" x="838.94" y="473.95"/>
<use href="#gA" x="849.53" y="473.95"/>
<use href="#gA" x="860.12" y="473.95"/>
<use href="#gA" x="870.71" y="473.95"/>
<use href="#gA" x="881.30" y="473.95"/>
<use href="#gA" x="891.89" y="473.95"/>
<use href="#gA" x="902.48" y="473.95"/>
<use href="#gA" x="913.07" y="473.95"/>
<use href="#gC" x="923.66" y="473.95"/>
<use href="#gC" x="934.25" y="473.95"/>
<use href="#gC" x="944.84" y="473.95"/>
<use href="#gG" x="955.43" y="473.95"/>
<use href="#gC" x="966.02" y="473.95"/>
<use href="#gT" x="976.61" y="473.95"/>
<use href="#gG" x="987.20" y="473.95"/>
<use href="#gC" x="997.79" y="473.95"/>
<use href="#gT" x="1008.38" y="473.95"/>
<use href="#gT" x="1018.97" y="473.95"/>
<use href="#gT" x="1029.56" y="473.95"/>
<use href="#gG" x="1040.15" y="473.95"/>
<use href="#gT" x="447.11" y="494.35"/>
<use href="#gA" x="457.70" y="494.35"/>
<use href="#gC" x="478.88" y="494.35"/>
<use href="#gT" x="489.47" y="494.35"/>
<use href="#gC" x="500.06" y="494.35"/>
<use href="#gA" x="510.65" y="494.35"/>
<use href="#gA" x="521.24" y="494.35"/>
<use href="#gA" x="531.83" y="494.35"/>
<use href="#gC" x="542.42" y="494.35"/>
<use href="#gC" x="553.01" y="494.35"/>
<use href="#gC" x="563.60" y="494.35"/>
<use href="#gA" x="574.19" y="494.35"/>
<use href="#gG" x="584.78" y="494.35"/>
<use href="#gC" x="595.37" y="494.35"/>
<use href="#gA" x="605.96" y="494.35"/>
<use href="#gA" x="616.55" y="494.35"/>
<use href="#gC" x="627.14" y="494.35"/>
<use href="#gT" x="637.73" y="494.35"/>
<use href="#gT" x="648.32" y="494.35"/>
<use href="#gA" x="658.91" y="494.35"/>
<use href="#gG" x="669.50" y="494.35"/>
<use href="#gA" x="680.09" y="494.35"/>
<use href="#gA" x="690.68" y="494.35"/>
<use href="#gA" x="701.27" y="494.35"/>
<use href="#gA" x="711.86" y="494.35"/>
<use href="#gC" x="722.45" y="494.35"/>
<use href="#gG" x="733.04" y="494.35"/>
<use href="#gG" x="743.63" y="494.35"/>
<use href="#gC" x="754.22" y="494.35"/>
<use href="#gT" x="764.81" y="494.35"/>
<use href="#gG" x="775.40" y="494.35"/>
<use href="#gT" x="785.99" y="494.35"/>
<use href="#gA" x="796.58" y="494.35"/>
<use href="#gG" x="807.17" y="494.35"/>
<use href="#gC" x="817.76" y="494.35"/>
<use href="#gG" x="828.35" y="494.35"/>
<use href="#gG" x="838.94" y="494.35"/>
<use href="#gA" x="849.53" y="494.35"/>
<use href="#gA" x="860.12" y="494.35"/>
<use href="#gA" x="870.71" y="494.35"/>
<use href="#gA" x="881.30" y="494.35"/>
<use href="#gA" x="891.89" y="494.35"/>
<use href="#gA" x="902.48" y="494.35"/>
<use href="#gA" x="913.07" y="494.35"/>
<use href="#gC" x="923.66" y="494.35"/>
<use href="#gC" x="934.25" y="494.35"/>
<use href="#gC" x="944.84" y="494.35"/>
<use href="#gG" x="955.43" y="494.35"/>
<use href="#gC" x="966.02" y="494.35"/>
<use href="#gT" x="976.61" y="494.35"/>
<use href="#gG" x="987.20" y="494.35"/>
<use href="#gC" x="997.79" y="494.35"/>
<use href="#gT" x="1008.38" y="494.35"/>
<use href="#gT" x="1018.97" y="494.35"/>
<use href="#gT" x="1029.56" y="494.35"/>
<use href="#gG" x="1040.15" y="494.35"/>
<text x="438.10" y="494.35" font-family="Liberation Mono" font-size="15.0" fill="#7f7f7f" font-weight="normal" stroke="#7f7f7f" stroke-width="0.12" transform="scale(1.07 1)">c</text>
<rect x="377.5" y="537.1" width="684.1" height="1.9" fill="#555"/>
<use href="#gT" x="383.57" y="595.40"/>
<use href="#gC" x="394.16" y="595.40"/>
<use href="#gT" x="404.75" y="595.40"/>
<use href="#gT" x="415.34" y="595.40"/>
<use href="#gC" x="425.93" y="595.40"/>
<use href="#gC" x="436.52" y="595.40"/>
<use href="#gT" x="447.11" y="595.40"/>
<use href="#gA" x="457.70" y="595.40"/>
<use href="#gC" x="468.29" y="595.40"/>
<use href="#gC" x="478.88" y="595.40"/>
<use href="#gT" x="489.47" y="595.40"/>
<use href="#gC" x="500.06" y="595.40"/>
<use href="#gA" x="510.65" y="595.40"/>
<use href="#gA" x="521.24" y="595.40"/>
<use href="#gA" x="531.83" y="595.40"/>
<use href="#gC" x="542.42" y="595.40"/>
<use href="#gC" x="553.01" y="595.40"/>
<use href="#gC" x="563.60" y="595.40"/>
<use href="#gA" x="574.19" y="595.40"/>
<use href="#gG" x="584.78" y="595.40"/>
<use href="#gC" x="595.37" y="595.40"/>
<use href="#gA" x="605.96" y="595.40"/>
<use href="#gA" x="616.55" y="595.40"/>
<use href="#gC" x="627.14" y="595.40"/>
<use href="#gT" x="637.73" y="595.40"/>
<use href="#gT" x="648.32" y="595.40"/>
<use href="#gA" x="658.91" y="595.40"/>
<use href="#gG" x="669.50" y="595.40"/>
<use href="#gA" x="680.09" y="595.40"/>
<use href="#gA" x="690.68" y="595.40"/>
<use href="#gA" x="701.27" y="595.40"/>
<use href="#gA" x="711.86" y="595.40"/>
<use href="#gC" x="722.45" y="595.40"/>
<use href="#gG" x="733.04" y="595.40"/>
<use href="#gG" x="743.63" y="595.40"/>
<use href="#gC" x="754.22" y="595.40"/>
<use href="#gT" x="383.57" y="615.80"/>
<use href="#gC" x="394.16" y="615.80"/>
<use href="#gT" x="404.75" y="615.80"/>
<use href="#gT" x="415.34" y="615.80"/>
<use href="#gC" x="425.93" y="615.80"/>
<use href="#gC" x="436.52" y="615.80"/>
<use href="#gT" x="447.11" y="615.80"/>
<use href="#gA" x="457.70" y="615.80"/>
<use href="#gC" x="468.29" y="615.80"/>
<use href="#gC" x="478.88" y="615.80"/>
<use href="#gT" x="489.47" y="615.80"/>
<use href="#gC" x="500.06" y="615.80"/>
<use href="#gA" x="510.65" y="615.80"/>
<use href="#gA" x="521.24" y="615.80"/>
<use href="#gA" x="531.83" y="615.80"/>
<use href="#gC" x="542.42" y="615.80"/>
<use href="#gC" x="553.01" y="615.80"/>
<use href="#gC" x="563.60" y="615.80"/>
<use href="#gA" x="574.19" y="615.80"/>
<use href="#gG" x="584.78" y="615.80"/>
<use href="#gC" x="595.37" y="615.80"/>
<use href="#gA" x="605.96" y="615.80"/>
<use href="#gA" x="616.55" y="615.80"/>
<use href="#gC" x="627.14" y="615.80"/>
<use href="#gT" x="637.73" y="615.80"/>
<use href="#gT" x="648.32" y="615.80"/>
<use href="#gA" x="658.91" y="615.80"/>
<use href="#gG" x="669.50" y="615.80"/>
<use href="#gA" x="680.09" y="615.80"/>
<use href="#gA" x="690.68" y="615.80"/>
<use href="#gA" x="701.27" y="615.80"/>
<use href="#gA" x="711.86" y="615.80"/>
<use href="#gC" x="722.45" y="615.80"/>
<use href="#gG" x="733.04" y="615.80"/>
<use href="#gG" x="743.63" y="615.80"/>
<use href="#gC" x="754.22" y="615.80"/>
<use href="#gT" x="383.57" y="636.20"/>
<use href="#gC" x="394.16" y="636.20"/>
<use href="#gT" x="404.75" y="636.20"/>
<use href="#gT" x="415.34" y="636.20"/>
<use href="#gC" x="425.93" y="636.20"/>
<use href="#gC" x="436.52" y="636.20"/>
<use href="#gT" x="447.11" y="636.20"/>
<use href="#gA" x="457.70" y="636.20"/>
<use href="#gC" x="468.29" y="636.20"/>
<use href="#gC" x="478.88" y="636.20"/>
<use href="#gT" x="489.47" y="636.20"/>
<use href="#gC" x="500.06" y="636.20"/>
<use href="#gA" x="510.65" y="636.20"/>
<use href="#gA" x="521.24" y="636.20"/>
<use href="#gA" x="531.83" y="636.20"/>
<use href="#gC" x="542.42" y="636.20"/>
<use href="#gC" x="553.01" y="636.20"/>
<use href="#gC" x="563.60" y="636.20"/>
<use href="#gA" x="574.19" y="636.20"/>
<use href="#gG" x="584.78" y="636.20"/>
<use href="#gC" x="595.37" y="636.20"/>
<use href="#gA" x="605.96" y="636.20"/>
<use href="#gA" x="616.55" y="636.20"/>
<use href="#gC" x="627.14" y="636.20"/>
<use href="#gT" x="637.73" y="636.20"/>
<use href="#gT" x="648.32" y="636.20"/>
<use href="#gA" x="658.91" y="636.20"/>
<use href="#gG" x="669.50" y="636.20"/>
<use href="#gA" x="680.09" y="636.20"/>
<use href="#gA" x="690.68" y="636.20"/>
<use href="#gA" x="701.27" y="636.20"/>
<use href="#gA" x="711.86" y="636.20"/>
<use href="#gC" x="722.45" y="636.20"/>
<use href="#gG" x="733.04" y="636.20"/>
<use href="#gG" x="743.63" y="636.20"/>
<use href="#gC" x="754.22" y="636.20"/>
<use href="#gT" x="764.81" y="636.20"/>
<use href="#gG" x="775.40" y="636.20"/>
<use href="#gT" x="785.99" y="636.20"/>
<use href="#gA" x="796.58" y="636.20"/>
<use href="#gG" x="807.17" y="636.20"/>
<use href="#gC" x="817.76" y="636.20"/>
<use href="#gG" x="828.35" y="636.20"/>
<use href="#gG" x="838.94" y="636.20"/>
<use href="#gA" x="849.53" y="636.20"/>
<use href="#gT" x="383.57" y="656.60"/>
<use href="#gC" x="394.16" y="656.60"/>
<use href="#gT" x="404.75" y="656.60"/>
<use href="#gT" x="415.34" y="656.60"/>
<use href="#gC" x="425.93" y="656.60"/>
<use href="#gC" x="436.52" y="656.60"/>
<use href="#gT" x="447.11" y="656.60"/>
<use href="#gA" x="457.70" y="656.60"/>
<use href="#gC" x="468.29" y="656.60"/>
<use href="#gC" x="478.88" y="656.60"/>
<use href="#gT" x="489.47" y="656.60"/>
<use href="#gC" x="500.06" y="656.60"/>
<use href="#gA" x="510.65" y="656.60"/>
<use href="#gA" x="521.24" y="656.60"/>
<use href="#gA" x="531.83" y="656.60"/>
<use href="#gC" x="542.42" y="656.60"/>
<use href="#gC" x="553.01" y="656.60"/>
<use href="#gC" x="563.60" y="656.60"/>
<use href="#gA" x="574.19" y="656.60"/>
<use href="#gG" x="584.78" y="656.60"/>
<use href="#gC" x="595.37" y="656.60"/>
<use href="#gA" x="605.96" y="656.60"/>
<use href="#gA" x="616.55" y="656.60"/>
<use href="#gC" x="627.14" y="656.60"/>
<use href="#gT" x="637.73" y="656.60"/>
<use href="#gT" x="648.32" y="656.60"/>
<use href="#gA" x="658.91" y="656.60"/>
<use href="#gG" x="669.50" y="656.60"/>
<use href="#gA" x="680.09" y="656.60"/>
<use href="#gA" x="690.68" y="656.60"/>
<use href="#gA" x="701.27" y="656.60"/>
<use href="#gA" x="711.86" y="656.60"/>
<use href="#gC" x="722.45" y="656.60"/>
<use href="#gG" x="733.04" y="656.60"/>
<use href="#gG" x="743.63" y="656.60"/>
<use href="#gC" x="754.22" y="656.60"/>
<use href="#gT" x="764.81" y="656.60"/>
<use href="#gG" x="775.40" y="656.60"/>
<use href="#gT" x="785.99" y="656.60"/>
<use href="#gA" x="796.58" y="656.60"/>
<use href="#gG" x="807.17" y="656.60"/>
<use href="#gC" x="817.76" y="656.60"/>
<use href="#gG" x="828.35" y="656.60"/>
<use href="#gG" x="838.94" y="656.60"/>
<use href="#gA" x="860.12" y="656.60"/>
<use href="#gA" x="870.71" y="656.60"/>
<use href="#gA" x="881.30" y="656.60"/>
<use href="#gA" x="891.89" y="656.60"/>
<use href="#gA" x="902.48" y="656.60"/>
<use href="#gC" x="923.66" y="656.60"/>
<use href="#gC" x="934.25" y="656.60"/>
<use href="#gC" x="944.84" y="656.60"/>
<use href="#gG" x="955.43" y="656.60"/>
<use href="#gC" x="966.02" y="656.60"/>
<use href="#gT" x="976.61" y="656.60"/>
<use href="#gG" x="987.20" y="656.60"/>
<use href="#gC" x="997.79" y="656.60"/>
<use href="#gT" x="1008.38" y="656.60"/>
<use href="#gT" x="1018.97" y="656.60"/>
<use href="#gT" x="1029.56" y="656.60"/>
<use href="#gG" x="1040.15" y="656.60"/>
<text x="794.40" y="656.60" font-family="Liberation Mono" font-size="15.0" fill="#ec1f24" font-weight="bold" stroke="#ec1f24" stroke-width="0" transform="scale(1.07 1)">c</text>
<text x="853.79" y="656.60" font-family="Liberation Mono" font-size="15.0" fill="#7f7f7f" font-weight="normal" stroke="#7f7f7f" stroke-width="0.12" transform="scale(1.07 1)">a</text>
<use href="#gT" x="383.57" y="677.00"/>
<use href="#gC" x="394.16" y="677.00"/>
<use href="#gT" x="404.75" y="677.00"/>
<use href="#gT" x="415.34" y="677.00"/>
<use href="#gC" x="425.93" y="677.00"/>
<use href="#gC" x="436.52" y="677.00"/>
<use href="#gT" x="447.11" y="677.00"/>
<use href="#gA" x="457.70" y="677.00"/>
<use href="#gC" x="468.29" y="677.00"/>
<use href="#gC" x="478.88" y="677.00"/>
<use href="#gT" x="489.47" y="677.00"/>
<use href="#gC" x="500.06" y="677.00"/>
<use href="#gA" x="510.65" y="677.00"/>
<use href="#gA" x="521.24" y="677.00"/>
<use href="#gA" x="531.83" y="677.00"/>
<use href="#gC" x="542.42" y="677.00"/>
<use href="#gC" x="553.01" y="677.00"/>
<use href="#gC" x="563.60" y="677.00"/>
<use href="#gA" x="574.19" y="677.00"/>
<use href="#gG" x="584.78" y="677.00"/>
<use href="#gC" x="595.37" y="677.00"/>
<use href="#gA" x="605.96" y="677.00"/>
<use href="#gA" x="616.55" y="677.00"/>
<use href="#gC" x="627.14" y="677.00"/>
<use href="#gT" x="637.73" y="677.00"/>
<use href="#gT" x="648.32" y="677.00"/>
<use href="#gA" x="658.91" y="677.00"/>
<use href="#gG" x="669.50" y="677.00"/>
<use href="#gA" x="680.09" y="677.00"/>
<use href="#gA" x="690.68" y="677.00"/>
<use href="#gA" x="701.27" y="677.00"/>
<use href="#gA" x="711.86" y="677.00"/>
<use href="#gC" x="722.45" y="677.00"/>
<use href="#gG" x="733.04" y="677.00"/>
<use href="#gG" x="743.63" y="677.00"/>
<use href="#gC" x="754.22" y="677.00"/>
<use href="#gT" x="764.81" y="677.00"/>
<use href="#gG" x="775.40" y="677.00"/>
<use href="#gT" x="785.99" y="677.00"/>
<use href="#gA" x="796.58" y="677.00"/>
<use href="#gG" x="807.17" y="677.00"/>
<use href="#gC" x="817.76" y="677.00"/>
<use href="#gG" x="828.35" y="677.00"/>
<use href="#gG" x="838.94" y="677.00"/>
<use href="#gA" x="849.53" y="677.00"/>
<use href="#gA" x="860.12" y="677.00"/>
<use href="#gA" x="870.71" y="677.00"/>
<use href="#gA" x="881.30" y="677.00"/>
<use href="#gA" x="891.89" y="677.00"/>
<use href="#gA" x="902.48" y="677.00"/>
<use href="#gA" x="913.07" y="677.00"/>
<use href="#gC" x="923.66" y="677.00"/>
<use href="#gC" x="934.25" y="677.00"/>
<use href="#gC" x="944.84" y="677.00"/>
<use href="#gG" x="955.43" y="677.00"/>
<use href="#gC" x="966.02" y="677.00"/>
<use href="#gT" x="976.61" y="677.00"/>
<use href="#gG" x="987.20" y="677.00"/>
<use href="#gC" x="997.79" y="677.00"/>
<use href="#gT" x="1008.38" y="677.00"/>
<use href="#gT" x="1018.97" y="677.00"/>
<use href="#gT" x="1029.56" y="677.00"/>
<use href="#gG" x="1040.15" y="677.00"/>
<use href="#gT" x="383.57" y="697.40"/>
<use href="#gC" x="394.16" y="697.40"/>
<use href="#gT" x="404.75" y="697.40"/>
<use href="#gT" x="415.34" y="697.40"/>
<use href="#gC" x="425.93" y="697.40"/>
<use href="#gC" x="436.52" y="697.40"/>
<use href="#gT" x="447.11" y="697.40"/>
<use href="#gA" x="457.70" y="697.40"/>
<use href="#gC" x="468.29" y="697.40"/>
<use href="#gC" x="478.88" y="697.40"/>
<use href="#gT" x="489.47" y="697.40"/>
<use href="#gC" x="500.06" y="697.40"/>
<use href="#gA" x="510.65" y="697.40"/>
<use href="#gA" x="521.24" y="697.40"/>
<use href="#gA" x="531.83" y="697.40"/>
<use href="#gC" x="542.42" y="697.40"/>
<use href="#gC" x="553.01" y="697.40"/>
<use href="#gC" x="563.60" y="697.40"/>
<use href="#gA" x="574.19" y="697.40"/>
<use href="#gG" x="584.78" y="697.40"/>
<use href="#gC" x="595.37" y="697.40"/>
<use href="#gA" x="605.96" y="697.40"/>
<use href="#gA" x="616.55" y="697.40"/>
<use href="#gC" x="627.14" y="697.40"/>
<use href="#gT" x="637.73" y="697.40"/>
<use href="#gT" x="648.32" y="697.40"/>
<use href="#gA" x="658.91" y="697.40"/>
<use href="#gG" x="669.50" y="697.40"/>
<use href="#gA" x="680.09" y="697.40"/>
<use href="#gA" x="690.68" y="697.40"/>
<use href="#gA" x="701.27" y="697.40"/>
<use href="#gA" x="711.86" y="697.40"/>
<use href="#gC" x="722.45" y="697.40"/>
<use href="#gG" x="733.04" y="697.40"/>
<use href="#gG" x="743.63" y="697.40"/>
<use href="#gC" x="754.22" y="697.40"/>
<use href="#gT" x="764.81" y="697.40"/>
<use href="#gG" x="775.40" y="697.40"/>
<use href="#gT" x="785.99" y="697.40"/>
<use href="#gA" x="796.58" y="697.40"/>
<use href="#gG" x="807.17" y="697.40"/>
<use href="#gC" x="817.76" y="697.40"/>
<use href="#gG" x="828.35" y="697.40"/>
<use href="#gG" x="838.94" y="697.40"/>
<use href="#gA" x="870.71" y="697.40"/>
<use href="#gA" x="881.30" y="697.40"/>
<use href="#gA" x="891.89" y="697.40"/>
<use href="#gA" x="913.07" y="697.40"/>
<use href="#gC" x="923.66" y="697.40"/>
<use href="#gC" x="934.25" y="697.40"/>
<use href="#gC" x="944.84" y="697.40"/>
<use href="#gG" x="955.43" y="697.40"/>
<use href="#gC" x="966.02" y="697.40"/>
<use href="#gT" x="976.61" y="697.40"/>
<use href="#gG" x="987.20" y="697.40"/>
<use href="#gC" x="997.79" y="697.40"/>
<use href="#gT" x="1008.38" y="697.40"/>
<use href="#gT" x="1018.97" y="697.40"/>
<use href="#gT" x="1029.56" y="697.40"/>
<text x="794.40 843.89 972.55" y="697.40" font-family="Liberation Mono" font-size="15.0" fill="#7f7f7f" font-weight="normal" stroke="#7f7f7f" stroke-width="0.12" transform="scale(1.07 1)">aag</text>
<text x="804.30" y="697.40" font-family="Liberation Mono" font-size="15.0" fill="#ec1f24" font-weight="bold" stroke="#ec1f24" stroke-width="0" transform="scale(1.07 1)">c</text>
<use href="#gT" x="383.57" y="717.80"/>
<use href="#gC" x="394.16" y="717.80"/>
<use href="#gT" x="404.75" y="717.80"/>
<use href="#gT" x="415.34" y="717.80"/>
<use href="#gC" x="425.93" y="717.80"/>
<use href="#gC" x="436.52" y="717.80"/>
<use href="#gT" x="447.11" y="717.80"/>
<use href="#gA" x="457.70" y="717.80"/>
<use href="#gC" x="468.29" y="717.80"/>
<use href="#gC" x="478.88" y="717.80"/>
<use href="#gT" x="489.47" y="717.80"/>
<use href="#gC" x="500.06" y="717.80"/>
<use href="#gA" x="510.65" y="717.80"/>
<use href="#gA" x="521.24" y="717.80"/>
<use href="#gA" x="531.83" y="717.80"/>
<use href="#gC" x="542.42" y="717.80"/>
<use href="#gC" x="553.01" y="717.80"/>
<use href="#gC" x="563.60" y="717.80"/>
<use href="#gA" x="574.19" y="717.80"/>
<use href="#gG" x="584.78" y="717.80"/>
<use href="#gC" x="595.37" y="717.80"/>
<use href="#gA" x="605.96" y="717.80"/>
<use href="#gA" x="616.55" y="717.80"/>
<use href="#gC" x="627.14" y="717.80"/>
<use href="#gT" x="637.73" y="717.80"/>
<use href="#gT" x="648.32" y="717.80"/>
<use href="#gA" x="658.91" y="717.80"/>
<use href="#gG" x="669.50" y="717.80"/>
<use href="#gA" x="680.09" y="717.80"/>
<use href="#gA" x="690.68" y="717.80"/>
<use href="#gA" x="701.27" y="717.80"/>
<use href="#gA" x="711.86" y="717.80"/>
<use href="#gC" x="722.45" y="717.80"/>
<use href="#gG" x="733.04" y="717.80"/>
<use href="#gG" x="743.63" y="717.80"/>
<use href="#gC" x="754.22" y="717.80"/>
<use href="#gT" x="764.81" y="717.80"/>
<use href="#gG" x="775.40" y="717.80"/>
<use href="#gT" x="785.99" y="717.80"/>
<use href="#gA" x="796.58" y="717.80"/>
<use href="#gG" x="807.17" y="717.80"/>
<use href="#gC" x="817.76" y="717.80"/>
<use href="#gG" x="828.35" y="717.80"/>
<use href="#gG" x="838.94" y="717.80"/>
<use href="#gA" x="849.53" y="717.80"/>
<use href="#gA" x="860.12" y="717.80"/>
<use href="#gA" x="870.71" y="717.80"/>
<use href="#gA" x="881.30" y="717.80"/>
<use href="#gA" x="891.89" y="717.80"/>
<use href="#gA" x="902.48" y="717.80"/>
<use href="#gA" x="913.07" y="717.80"/>
<use href="#gC" x="923.66" y="717.80"/>
<use href="#gC" x="934.25" y="717.80"/>
<use href="#gC" x="944.84" y="717.80"/>
<use href="#gG" x="955.43" y="717.80"/>
<use href="#gC" x="966.02" y="717.80"/>
<use href="#gT" x="976.61" y="717.80"/>
<use href="#gG" x="987.20" y="717.80"/>
<use href="#gC" x="997.79" y="717.80"/>
<use href="#gT" x="1008.38" y="717.80"/>
<use href="#gT" x="1018.97" y="717.80"/>
<use href="#gG" x="1040.15" y="717.80"/>
<text x="962.65" y="717.80" font-family="Liberation Mono" font-size="15.0" fill="#7f7f7f" font-weight="normal" stroke="#7f7f7f" stroke-width="0.12" transform="scale(1.07 1)">t</text>
<use href="#gT" x="383.57" y="738.20"/>
<use href="#gC" x="394.16" y="738.20"/>
<use href="#gT" x="404.75" y="738.20"/>
<use href="#gT" x="415.34" y="738.20"/>
<use href="#gC" x="425.93" y="738.20"/>
<use href="#gC" x="436.52" y="738.20"/>
<use href="#gT" x="447.11" y="738.20"/>
<use href="#gA" x="457.70" y="738.20"/>
<use href="#gT" x="489.47" y="738.20"/>
<use href="#gC" x="500.06" y="738.20"/>
<use href="#gA" x="510.65" y="738.20"/>
<use href="#gA" x="521.24" y="738.20"/>
<use href="#gA" x="531.83" y="738.20"/>
<use href="#gC" x="542.42" y="738.20"/>
<use href="#gC" x="553.01" y="738.20"/>
<use href="#gC" x="563.60" y="738.20"/>
<use href="#gA" x="574.19" y="738.20"/>
<use href="#gG" x="584.78" y="738.20"/>
<use href="#gC" x="595.37" y="738.20"/>
<use href="#gA" x="605.96" y="738.20"/>
<use href="#gA" x="616.55" y="738.20"/>
<use href="#gC" x="627.14" y="738.20"/>
<use href="#gT" x="637.73" y="738.20"/>
<use href="#gT" x="648.32" y="738.20"/>
<use href="#gA" x="658.91" y="738.20"/>
<use href="#gG" x="669.50" y="738.20"/>
<use href="#gA" x="680.09" y="738.20"/>
<use href="#gA" x="690.68" y="738.20"/>
<use href="#gA" x="701.27" y="738.20"/>
<use href="#gA" x="711.86" y="738.20"/>
<use href="#gC" x="722.45" y="738.20"/>
<use href="#gG" x="733.04" y="738.20"/>
<use href="#gG" x="743.63" y="738.20"/>
<use href="#gC" x="754.22" y="738.20"/>
<use href="#gT" x="764.81" y="738.20"/>
<use href="#gG" x="775.40" y="738.20"/>
<use href="#gT" x="785.99" y="738.20"/>
<use href="#gA" x="796.58" y="738.20"/>
<use href="#gG" x="807.17" y="738.20"/>
<use href="#gC" x="817.76" y="738.20"/>
<use href="#gG" x="828.35" y="738.20"/>
<use href="#gG" x="838.94" y="738.20"/>
<use href="#gA" x="849.53" y="738.20"/>
<use href="#gA" x="860.12" y="738.20"/>
<use href="#gA" x="870.71" y="738.20"/>
<use href="#gA" x="881.30" y="738.20"/>
<use href="#gA" x="891.89" y="738.20"/>
<use href="#gA" x="902.48" y="738.20"/>
<use href="#gA" x="913.07" y="738.20"/>
<use href="#gC" x="923.66" y="738.20"/>
<use href="#gG" x="955.43" y="738.20"/>
<use href="#gT" x="976.61" y="738.20"/>
<use href="#gG" x="987.20" y="738.20"/>
<use href="#gT" x="1018.97" y="738.20"/>
<use href="#gT" x="1029.56" y="738.20"/>
<use href="#gG" x="1040.15" y="738.20"/>
<text x="438.10 448.00 873.58 883.48 903.27 932.96 942.86" y="738.20" font-family="Liberation Mono" font-size="15.0" fill="#7f7f7f" font-weight="normal" stroke="#7f7f7f" stroke-width="0.12" transform="scale(1.07 1)">cccccct</text>
<use href="#gT" x="383.57" y="758.60"/>
<use href="#gC" x="394.16" y="758.60"/>
<use href="#gT" x="404.75" y="758.60"/>
<use href="#gT" x="415.34" y="758.60"/>
<use href="#gC" x="425.93" y="758.60"/>
<use href="#gC" x="436.52" y="758.60"/>
<use href="#gT" x="447.11" y="758.60"/>
<use href="#gA" x="457.70" y="758.60"/>
<use href="#gC" x="468.29" y="758.60"/>
<use href="#gC" x="478.88" y="758.60"/>
<use href="#gT" x="489.47" y="758.60"/>
<use href="#gC" x="500.06" y="758.60"/>
<use href="#gA" x="510.65" y="758.60"/>
<use href="#gA" x="521.24" y="758.60"/>
<use href="#gA" x="531.83" y="758.60"/>
<use href="#gC" x="542.42" y="758.60"/>
<use href="#gC" x="553.01" y="758.60"/>
<use href="#gC" x="563.60" y="758.60"/>
<use href="#gA" x="574.19" y="758.60"/>
<use href="#gG" x="584.78" y="758.60"/>
<use href="#gC" x="595.37" y="758.60"/>
<use href="#gA" x="605.96" y="758.60"/>
<use href="#gA" x="616.55" y="758.60"/>
<use href="#gC" x="627.14" y="758.60"/>
<use href="#gT" x="637.73" y="758.60"/>
<use href="#gT" x="648.32" y="758.60"/>
<use href="#gA" x="658.91" y="758.60"/>
<use href="#gG" x="669.50" y="758.60"/>
<use href="#gA" x="680.09" y="758.60"/>
<use href="#gA" x="690.68" y="758.60"/>
<use href="#gA" x="701.27" y="758.60"/>
<use href="#gA" x="711.86" y="758.60"/>
<use href="#gC" x="722.45" y="758.60"/>
<use href="#gG" x="733.04" y="758.60"/>
<use href="#gG" x="743.63" y="758.60"/>
<use href="#gC" x="754.22" y="758.60"/>
<use href="#gT" x="764.81" y="758.60"/>
<use href="#gG" x="775.40" y="758.60"/>
<use href="#gT" x="785.99" y="758.60"/>
<use href="#gA" x="796.58" y="758.60"/>
<use href="#gG" x="807.17" y="758.60"/>
<use href="#gC" x="817.76" y="758.60"/>
<use href="#gG" x="828.35" y="758.60"/>
<use href="#gG" x="838.94" y="758.60"/>
<use href="#gA" x="849.53" y="758.60"/>
<use href="#gA" x="860.12" y="758.60"/>
<use href="#gA" x="870.71" y="758.60"/>
<use href="#gA" x="881.30" y="758.60"/>
<use href="#gA" x="891.89" y="758.60"/>
<use href="#gA" x="902.48" y="758.60"/>
<use href="#gA" x="913.07" y="758.60"/>
<use href="#gC" x="923.66" y="758.60"/>
<use href="#gC" x="934.25" y="758.60"/>
<use href="#gC" x="944.84" y="758.60"/>
<use href="#gG" x="955.43" y="758.60"/>
<use href="#gC" x="966.02" y="758.60"/>
<use href="#gT" x="976.61" y="758.60"/>
<use href="#gG" x="987.20" y="758.60"/>
<use href="#gC" x="997.79" y="758.60"/>
<use href="#gT" x="1008.38" y="758.60"/>
<use href="#gT" x="1018.97" y="758.60"/>
<use href="#gT" x="1029.56" y="758.60"/>
<use href="#gG" x="1040.15" y="758.60"/>
<use href="#gT" x="383.57" y="779.00"/>
<use href="#gC" x="394.16" y="779.00"/>
<use href="#gT" x="404.75" y="779.00"/>
<use href="#gT" x="415.34" y="779.00"/>
<use href="#gC" x="425.93" y="779.00"/>
<use href="#gC" x="436.52" y="779.00"/>
<use href="#gT" x="447.11" y="779.00"/>
<use href="#gA" x="457.70" y="779.00"/>
<use href="#gC" x="468.29" y="779.00"/>
<use href="#gC" x="478.88" y="779.00"/>
<use href="#gT" x="489.47" y="779.00"/>
<use href="#gC" x="500.06" y="779.00"/>
<use href="#gA" x="510.65" y="779.00"/>
<use href="#gA" x="521.24" y="779.00"/>
<use href="#gA" x="531.83" y="779.00"/>
<use href="#gC" x="542.42" y="779.00"/>
<use href="#gC" x="553.01" y="779.00"/>
<use href="#gC" x="563.60" y="779.00"/>
<use href="#gA" x="574.19" y="779.00"/>
<use href="#gG" x="584.78" y="779.00"/>
<use href="#gC" x="595.37" y="779.00"/>
<use href="#gA" x="605.96" y="779.00"/>
<use href="#gA" x="616.55" y="779.00"/>
<use href="#gC" x="627.14" y="779.00"/>
<use href="#gT" x="637.73" y="779.00"/>
<use href="#gT" x="648.32" y="779.00"/>
<use href="#gA" x="658.91" y="779.00"/>
<use href="#gG" x="669.50" y="779.00"/>
<use href="#gA" x="680.09" y="779.00"/>
<use href="#gA" x="690.68" y="779.00"/>
<use href="#gA" x="701.27" y="779.00"/>
<use href="#gA" x="711.86" y="779.00"/>
<use href="#gC" x="722.45" y="779.00"/>
<use href="#gG" x="733.04" y="779.00"/>
<use href="#gG" x="743.63" y="779.00"/>
<use href="#gC" x="754.22" y="779.00"/>
<use href="#gT" x="764.81" y="779.00"/>
<use href="#gG" x="775.40" y="779.00"/>
<use href="#gT" x="785.99" y="779.00"/>
<use href="#gA" x="796.58" y="779.00"/>
<use href="#gG" x="807.17" y="779.00"/>
<use href="#gC" x="817.76" y="779.00"/>
<use href="#gG" x="828.35" y="779.00"/>
<use href="#gG" x="838.94" y="779.00"/>
<use href="#gA" x="849.53" y="779.00"/>
<use href="#gA" x="860.12" y="779.00"/>
<use href="#gA" x="870.71" y="779.00"/>
<use href="#gA" x="881.30" y="779.00"/>
<use href="#gA" x="891.89" y="779.00"/>
<use href="#gA" x="902.48" y="779.00"/>
<use href="#gA" x="913.07" y="779.00"/>
<use href="#gC" x="923.66" y="779.00"/>
<use href="#gC" x="934.25" y="779.00"/>
<use href="#gC" x="944.84" y="779.00"/>
<use href="#gG" x="955.43" y="779.00"/>
<use href="#gC" x="966.02" y="779.00"/>
<use href="#gT" x="976.61" y="779.00"/>
<use href="#gG" x="987.20" y="779.00"/>
<use href="#gC" x="997.79" y="779.00"/>
<use href="#gT" x="1008.38" y="779.00"/>
<use href="#gT" x="1018.97" y="779.00"/>
<use href="#gT" x="1029.56" y="779.00"/>
<use href="#gG" x="1040.15" y="779.00"/>
<use href="#gC" x="553.01" y="799.40"/>
<use href="#gC" x="563.60" y="799.40"/>
<use href="#gA" x="574.19" y="799.40"/>
<use href="#gG" x="584.78" y="799.40"/>
<use href="#gC" x="595.37" y="799.40"/>
<use href="#gA" x="605.96" y="799.40"/>
<use href="#gA" x="616.55" y="799.40"/>
<use href="#gC" x="627.14" y="799.40"/>
<use href="#gT" x="637.73" y="799.40"/>
<use href="#gT" x="648.32" y="799.40"/>
<use href="#gA" x="658.91" y="799.40"/>
<use href="#gG" x="669.50" y="799.40"/>
<use href="#gA" x="680.09" y="799.40"/>
<use href="#gA" x="690.68" y="799.40"/>
<use href="#gA" x="701.27" y="799.40"/>
<use href="#gA" x="711.86" y="799.40"/>
<use href="#gC" x="722.45" y="799.40"/>
<use href="#gG" x="733.04" y="799.40"/>
<use href="#gG" x="743.63" y="799.40"/>
<use href="#gC" x="754.22" y="799.40"/>
<use href="#gT" x="764.81" y="799.40"/>
<use href="#gG" x="775.40" y="799.40"/>
<use href="#gT" x="785.99" y="799.40"/>
<use href="#gA" x="796.58" y="799.40"/>
<use href="#gG" x="807.17" y="799.40"/>
<use href="#gC" x="817.76" y="799.40"/>
<use href="#gG" x="828.35" y="799.40"/>
<use href="#gG" x="838.94" y="799.40"/>
<use href="#gA" x="849.53" y="799.40"/>
<use href="#gA" x="860.12" y="799.40"/>
<use href="#gA" x="870.71" y="799.40"/>
<use href="#gA" x="881.30" y="799.40"/>
<use href="#gA" x="891.89" y="799.40"/>
<use href="#gA" x="902.48" y="799.40"/>
<use href="#gA" x="913.07" y="799.40"/>
<use href="#gC" x="923.66" y="799.40"/>
<use href="#gC" x="934.25" y="799.40"/>
<use href="#gC" x="944.84" y="799.40"/>
<use href="#gG" x="955.43" y="799.40"/>
<use href="#gC" x="966.02" y="799.40"/>
<use href="#gT" x="976.61" y="799.40"/>
<use href="#gG" x="987.20" y="799.40"/>
<use href="#gC" x="997.79" y="799.40"/>
<use href="#gT" x="1008.38" y="799.40"/>
<use href="#gT" x="1018.97" y="799.40"/>
<use href="#gT" x="1029.56" y="799.40"/>
<use href="#gG" x="1040.15" y="799.40"/>
<use href="#gC" x="553.01" y="819.80"/>
<use href="#gC" x="563.60" y="819.80"/>
<use href="#gA" x="574.19" y="819.80"/>
<use href="#gG" x="584.78" y="819.80"/>
<use href="#gC" x="595.37" y="819.80"/>
<use href="#gA" x="605.96" y="819.80"/>
<use href="#gA" x="616.55" y="819.80"/>
<use href="#gC" x="627.14" y="819.80"/>
<use href="#gT" x="637.73" y="819.80"/>
<use href="#gT" x="648.32" y="819.80"/>
<use href="#gA" x="658.91" y="819.80"/>
<use href="#gG" x="669.50" y="819.80"/>
<use href="#gA" x="680.09" y="819.80"/>
<use href="#gA" x="690.68" y="819.80"/>
<use href="#gA" x="701.27" y="819.80"/>
<use href="#gA" x="711.86" y="819.80"/>
<use href="#gC" x="722.45" y="819.80"/>
<use href="#gG" x="733.04" y="819.80"/>
<use href="#gG" x="743.63" y="819.80"/>
<use href="#gC" x="754.22" y="819.80"/>
<use href="#gT" x="764.81" y="819.80"/>
<use href="#gG" x="775.40" y="819.80"/>
<use href="#gT" x="785.99" y="819.80"/>
<use href="#gA" x="796.58" y="819.80"/>
<use href="#gG" x="807.17" y="819.80"/>
<use href="#gC" x="817.76" y="819.80"/>
<use href="#gG" x="828.35" y="819.80"/>
<use href="#gG" x="838.94" y="819.80"/>
<use href="#gA" x="849.53" y="819.80"/>
<use href="#gA" x="860.12" y="819.80"/>
<use href="#gA" x="870.71" y="819.80"/>
<use href="#gA" x="881.30" y="819.80"/>
<use href="#gA" x="891.89" y="819.80"/>
<use href="#gA" x="902.48" y="819.80"/>
<use href="#gA" x="913.07" y="819.80"/>
<use href="#gC" x="923.66" y="819.80"/>
<use href="#gC" x="934.25" y="819.80"/>
<use href="#gC" x="944.84" y="819.80"/>
<use href="#gG" x="955.43" y="819.80"/>
<use href="#gC" x="966.02" y="819.80"/>
<use href="#gT" x="976.61" y="819.80"/>
<use href="#gG" x="987.20" y="819.80"/>
<use href="#gC" x="997.79" y="819.80"/>
<use href="#gT" x="1008.38" y="819.80"/>
<use href="#gT" x="1018.97" y="819.80"/>
<use href="#gT" x="1029.56" y="819.80"/>
<use href="#gG" x="1040.15" y="819.80"/>
<use href="#gA" x="658.91" y="840.20"/>
<use href="#gG" x="669.50" y="840.20"/>
<use href="#gA" x="680.09" y="840.20"/>
<use href="#gA" x="690.68" y="840.20"/>
<use href="#gA" x="701.27" y="840.20"/>
<use href="#gA" x="711.86" y="840.20"/>
<use href="#gC" x="722.45" y="840.20"/>
<use href="#gG" x="733.04" y="840.20"/>
<use href="#gG" x="743.63" y="840.20"/>
<use href="#gC" x="754.22" y="840.20"/>
<use href="#gT" x="764.81" y="840.20"/>
<use href="#gG" x="775.40" y="840.20"/>
<use href="#gT" x="785.99" y="840.20"/>
<use href="#gA" x="796.58" y="840.20"/>
<use href="#gG" x="807.17" y="840.20"/>
<use href="#gC" x="817.76" y="840.20"/>
<use href="#gG" x="828.35" y="840.20"/>
<use href="#gG" x="838.94" y="840.20"/>
<use href="#gA" x="849.53" y="840.20"/>
<use href="#gA" x="860.12" y="840.20"/>
<use href="#gA" x="870.71" y="840.20"/>
<use href="#gA" x="881.30" y="840.20"/>
<use href="#gA" x="891.89" y="840.20"/>
<use href="#gA" x="902.48" y="840.20"/>
<use href="#gA" x="913.07" y="840.20"/>
<use href="#gC" x="923.66" y="840.20"/>
<use href="#gC" x="934.25" y="840.20"/>
<use href="#gC" x="944.84" y="840.20"/>
<use href="#gG" x="955.43" y="840.20"/>
<use href="#gC" x="966.02" y="840.20"/>
<use href="#gT" x="976.61" y="840.20"/>
<use href="#gG" x="987.20" y="840.20"/>
<use href="#gC" x="997.79" y="840.20"/>
<use href="#gT" x="1008.38" y="840.20"/>
<use href="#gT" x="1018.97" y="840.20"/>
<use href="#gT" x="1029.56" y="840.20"/>
<use href="#gG" x="1040.15" y="840.20"/>
<use href="#gA" x="658.91" y="860.60"/>
<use href="#gG" x="669.50" y="860.60"/>
<use href="#gA" x="680.09" y="860.60"/>
<use href="#gA" x="690.68" y="860.60"/>
<use href="#gA" x="701.27" y="860.60"/>
<use href="#gA" x="711.86" y="860.60"/>
<use href="#gC" x="722.45" y="860.60"/>
<use href="#gG" x="733.04" y="860.60"/>
<use href="#gG" x="743.63" y="860.60"/>
<use href="#gC" x="754.22" y="860.60"/>
<use href="#gT" x="764.81" y="860.60"/>
<use href="#gG" x="775.40" y="860.60"/>
<use href="#gT" x="785.99" y="860.60"/>
<use href="#gA" x="796.58" y="860.60"/>
<use href="#gG" x="807.17" y="860.60"/>
<use href="#gC" x="817.76" y="860.60"/>
<use href="#gG" x="828.35" y="860.60"/>
<use href="#gG" x="838.94" y="860.60"/>
<use href="#gA" x="849.53" y="860.60"/>
<use href="#gA" x="860.12" y="860.60"/>
<use href="#gA" x="870.71" y="860.60"/>
<use href="#gA" x="881.30" y="860.60"/>
<use href="#gA" x="891.89" y="860.60"/>
<use href="#gA" x="902.48" y="860.60"/>
<use href="#gA" x="913.07" y="860.60"/>
<use href="#gC" x="923.66" y="860.60"/>
<use href="#gC" x="934.25" y="860.60"/>
<use href="#gC" x="944.84" y="860.60"/>
<use href="#gG" x="955.43" y="860.60"/>
<use href="#gC" x="966.02" y="860.60"/>
<use href="#gT" x="976.61" y="860.60"/>
<use href="#gG" x="987.20" y="860.60"/>
<use href="#gC" x="997.79" y="860.60"/>
<use href="#gT" x="1008.38" y="860.60"/>
<use href="#gT" x="1018.97" y="860.60"/>
<use href="#gT" x="1029.56" y="860.60"/>
<use href="#gG" x="1040.15" y="860.60"/>
<use href="#gA" x="690.68" y="881.00"/>
<use href="#gA" x="701.27" y="881.00"/>
<use href="#gA" x="711.86" y="881.00"/>
<use href="#gC" x="722.45" y="881.00"/>
<use href="#gG" x="733.04" y="881.00"/>
<use href="#gG" x="743.63" y="881.00"/>
<use href="#gC" x="754.22" y="881.00"/>
<use href="#gT" x="764.81" y="881.00"/>
<use href="#gG" x="775.40" y="881.00"/>
<use href="#gT" x="785.99" y="881.00"/>
<use href="#gA" x="796.58" y="881.00"/>
<use href="#gG" x="807.17" y="881.00"/>
<use href="#gC" x="817.76" y="881.00"/>
<use href="#gG" x="828.35" y="881.00"/>
<use href="#gG" x="838.94" y="881.00"/>
<use href="#gA" x="849.53" y="881.00"/>
<use href="#gA" x="860.12" y="881.00"/>
<use href="#gA" x="870.71" y="881.00"/>
<use href="#gA" x="881.30" y="881.00"/>
<use href="#gA" x="891.89" y="881.00"/>
<use href="#gA" x="902.48" y="881.00"/>
<use href="#gA" x="913.07" y="881.00"/>
<use href="#gC" x="923.66" y="881.00"/>
<use href="#gC" x="934.25" y="881.00"/>
<use href="#gC" x="944.84" y="881.00"/>
<use href="#gG" x="955.43" y="881.00"/>
<use href="#gC" x="966.02" y="881.00"/>
<use href="#gT" x="976.61" y="881.00"/>
<use href="#gG" x="987.20" y="881.00"/>
<use href="#gC" x="997.79" y="881.00"/>
<use href="#gT" x="1008.38" y="881.00"/>
<use href="#gT" x="1018.97" y="881.00"/>
<use href="#gT" x="1029.56" y="881.00"/>
<use href="#gG" x="1040.15" y="881.00"/>
<rect x="377.5" y="924.1" width="684.1" height="1.9" fill="#555"/>
<text x="3.00" y="1076.00" font-family="Liberation Sans" font-size="58.5" fill="#000" text-anchor="start" font-weight="normal" >b</text>
<text x="169.00" y="1100.70" font-family="Liberation Sans" font-size="24.5" fill="#000" text-anchor="start" font-weight="normal" >chr1</text>
<text x="324.80" y="1100.70" font-family="Liberation Sans" font-size="25" fill="#000" text-anchor="middle" font-weight="normal" >47,650,000</text>
<text x="470.36" y="1100.70" font-family="Liberation Sans" font-size="25" fill="#000" text-anchor="middle" font-weight="normal" >47,660,000</text>
<text x="704.08" y="1100.70" font-family="Liberation Sans" font-size="25" fill="#000" text-anchor="middle" font-weight="normal" >47,680,000</text>
<text x="937.80" y="1100.70" font-family="Liberation Sans" font-size="25" fill="#000" text-anchor="middle" font-weight="normal" >47,700,000</text>
<text x="1171.52" y="1100.70" font-family="Liberation Sans" font-size="25" fill="#000" text-anchor="middle" font-weight="normal" >47,720,000</text>
<text x="1396.90" y="1100.70" font-family="Liberation Sans" font-size="25" fill="#000" text-anchor="middle" font-weight="normal" >47,740,000</text>
<rect x="352.70" y="1116.9" width="1053.34" height="1.6" fill="#000"/>
<rect x="352.70" y="1106.1" width="1.6" height="12" fill="#000"/>
<rect x="469.56" y="1106.1" width="1.6" height="12" fill="#000"/>
<rect x="703.28" y="1106.1" width="1.6" height="12" fill="#000"/>
<rect x="937.00" y="1106.1" width="1.6" height="12" fill="#000"/>
<rect x="1170.72" y="1106.1" width="1.6" height="12" fill="#000"/>
<rect x="1404.44" y="1106.1" width="1.6" height="12" fill="#000"/>
<rect x="347.5" y="1160.90" width="1.7" height="96.10" fill="#000"/>
<rect x="336.1" y="1160.90" width="13" height="1.6" fill="#000"/>
<rect x="336.1" y="1255.40" width="13" height="1.6" fill="#000"/>
<text x="329.60" y="1168.70" font-family="Liberation Sans" font-size="22.5" fill="#000" text-anchor="end" font-weight="normal" >20</text>
<text x="329.60" y="1263.20" font-family="Liberation Sans" font-size="22.5" fill="#000" text-anchor="end" font-weight="normal" >0</text>
<rect x="347.5" y="1274.25" width="1.7" height="96.10" fill="#000"/>
<rect x="336.1" y="1274.25" width="13" height="1.6" fill="#000"/>
<rect x="336.1" y="1368.75" width="13" height="1.6" fill="#000"/>
<text x="329.60" y="1282.05" font-family="Liberation Sans" font-size="22.5" fill="#000" text-anchor="end" font-weight="normal" >20</text>
<text x="329.60" y="1376.55" font-family="Liberation Sans" font-size="22.5" fill="#000" text-anchor="end" font-weight="normal" >0</text>
<rect x="347.5" y="1387.60" width="1.7" height="96.10" fill="#000"/>
<rect x="336.1" y="1387.60" width="13" height="1.6" fill="#000"/>
<rect x="336.1" y="1482.10" width="13" height="1.6" fill="#000"/>
<text x="329.60" y="1395.40" font-family="Liberation Sans" font-size="22.5" fill="#000" text-anchor="end" font-weight="normal" >20</text>
<text x="329.60" y="1489.90" font-family="Liberation Sans" font-size="22.5" fill="#000" text-anchor="end" font-weight="normal" >0</text>
<rect x="347.5" y="1500.95" width="1.7" height="96.10" fill="#000"/>
<rect x="336.1" y="1500.95" width="13" height="1.6" fill="#000"/>
<rect x="336.1" y="1595.45" width="13" height="1.6" fill="#000"/>
<text x="329.60" y="1508.75" font-family="Liberation Sans" font-size="22.5" fill="#000" text-anchor="end" font-weight="normal" >20</text>
<text x="329.60" y="1603.25" font-family="Liberation Sans" font-size="22.5" fill="#000" text-anchor="end" font-weight="normal" >0</text>
<rect x="347.5" y="1614.30" width="1.7" height="96.10" fill="#000"/>
<rect x="336.1" y="1614.30" width="13" height="1.6" fill="#000"/>
<rect x="336.1" y="1708.80" width="13" height="1.6" fill="#000"/>
<text x="329.60" y="1622.10" font-family="Liberation Sans" font-size="22.5" fill="#000" text-anchor="end" font-weight="normal" >20</text>
<text x="329.60" y="1716.60" font-family="Liberation Sans" font-size="22.5" fill="#000" text-anchor="end" font-weight="normal" >0</text>
<text x="218.50" y="1201.60" font-family="Liberation Sans" font-size="25.3" fill="#000" text-anchor="middle" font-weight="normal" >H3K27AC</text>
<text x="218.50" y="1231.70" font-family="Liberation Sans" font-size="25.3" fill="#000" text-anchor="middle" font-weight="normal" >(SJALL018373-PDX)</text>
<text x="214.90" y="1313.90" font-family="Liberation Sans" font-size="25.3" fill="#000" text-anchor="middle" font-weight="normal" >H3K27Ac</text>
<text x="214.90" y="1342.80" font-family="Liberation Sans" font-size="25.3" fill="#000" text-anchor="middle" font-weight="normal" >(CD3 cells)</text>
<text x="215.00" y="1424.00" font-family="Liberation Sans" font-size="25.3" fill="#000" text-anchor="middle" font-weight="normal" >H3K27Ac</text>
<text x="215.00" y="1452.70" font-family="Liberation Sans" font-size="25.3" fill="#000" text-anchor="middle" font-weight="normal" >(CD4 cels)</text>
<text x="216.60" y="1536.90" font-family="Liberation Sans" font-size="25.3" fill="#000" text-anchor="middle" font-weight="normal" >H3K27Ac</text>
<text x="216.60" y="1565.20" font-family="Liberation Sans" font-size="25.3" fill="#000" text-anchor="middle" font-weight="normal" >(CD8 cells)</text>
<text x="217.90" y="1659.40" font-family="Liberation Sans" font-size="25.3" fill="#000" text-anchor="middle" font-weight="normal" >H3K27Ac</text>
<text x="217.90" y="1689.00" font-family="Liberation Sans" font-size="25.3" fill="#000" text-anchor="middle" font-weight="normal" >(LOUCY)</text>
<path d="M353.1 1255.0V1251.3H355.3V1255.0ZM355.3 1255.0V1253.1H357.1V1255.0ZM357.1 1255.0V1249.2H358.4V1249.0H359.8V1248.3H361.1V1255.0ZM361.1 1255.0V1251.6H362.6V1251.6H364.0V1251.5H365.5V1255.0ZM365.5 1255.0V1248.2H368.6V1255.0ZM368.6 1255.0V1252.7H370.2V1252.4H371.9V1252.3H373.5V1255.0ZM373.5 1255.0V1247.7H374.9V1249.2H376.3V1248.7H377.8V1249.2H379.2V1247.6H380.6V1255.0ZM380.6 1255.0V1244.2H383.2V1255.0ZM383.2 1255.0V1247.0H384.6V1248.6H386.1V1246.3H387.5V1246.3H388.9V1247.1H390.4V1247.2H391.8V1248.3H393.2V1248.6H394.7V1247.4H396.1V1255.0ZM396.1 1255.0V1250.0H398.3V1255.0ZM398.3 1255.0V1244.3H399.9V1243.8H401.6V1243.6H403.2V1255.0ZM403.2 1255.0V1248.7H405.8V1255.0ZM405.8 1255.0V1245.1H407.6V1255.0ZM407.6 1255.0V1249.6H409.1V1248.7H410.6V1248.8H412.0V1248.0H413.5V1248.6H415.0V1248.4H416.5V1248.7H417.9V1248.3H419.4V1248.8H420.9V1255.0ZM420.9 1255.0V1247.7H422.2V1245.8H423.5V1245.8H424.9V1246.2H426.2V1255.0ZM426.2 1255.0V1241.2H427.8V1242.8H429.3V1243.2H430.8V1243.0H432.4V1255.0ZM432.4 1255.0V1251.0H433.7V1250.0H435.0V1250.5H436.4V1249.8H437.7V1255.0ZM437.7 1255.0V1245.6H439.5V1255.0ZM439.5 1255.0V1252.5H440.8V1252.0H442.2V1252.1H443.5V1255.0ZM443.5 1255.0V1249.7H445.1V1249.3H446.8V1247.8H448.4V1255.0ZM448.4 1255.0V1245.1H450.0V1243.4H451.6V1245.3H453.2V1255.0ZM453.2 1255.0V1251.3H454.5V1250.5H455.9V1250.3H457.2V1255.0ZM457.2 1255.0V1242.5H460.3V1255.0ZM460.3 1255.0V1250.7H461.9V1251.0H463.6V1250.6H465.2V1255.0ZM465.2 1255.0V1239.7H466.5V1240.6H467.9V1243.3H469.2V1255.0ZM469.2 1255.0V1249.6H470.5V1249.9H471.9V1250.0H473.2V1255.0ZM473.2 1255.0V1245.4H474.7V1247.2H476.1V1246.1H477.6V1255.0ZM477.6 1255.0V1242.1H480.0V1255.0ZM480.0 1255.0V1247.4H481.6V1248.1H483.3V1255.0ZM483.3 1255.0V1246.4H485.2V1255.0ZM485.2 1255.0V1248.3H487.1V1255.0ZM487.1 1255.0V1253.3H489.3V1255.0ZM489.3 1255.0V1250.0H490.6V1250.9H491.8V1250.1H493.1V1255.0ZM493.1 1255.0V1251.6H495.0V1255.0ZM495.0 1255.0V1246.7H498.0V1255.0ZM498.0 1255.0V1246.3H499.4V1245.3H500.7V1246.0H502.1V1255.0ZM502.1 1255.0V1248.1H504.0V1255.0ZM504.0 1255.0V1248.3H505.9V1255.0ZM505.9 1255.0V1252.1H507.3V1251.4H508.6V1251.5H510.0V1255.0ZM510.0 1255.0V1248.1H512.2V1255.0ZM512.2 1255.0V1250.0H514.1V1255.0ZM514.1 1255.0V1244.3H516.0V1255.0ZM516.0 1255.0V1247.5H517.6V1255.0ZM517.6 1255.0V1242.3H519.5V1255.0ZM519.5 1255.0V1244.3H521.4V1255.0ZM521.4 1255.0V1242.5H522.7V1240.0H524.0V1242.9H525.3V1255.0ZM525.3 1255.0V1236.6H527.2V1255.0ZM527.2 1255.0V1242.3H529.1V1255.0ZM529.1 1255.0V1244.3H530.7V1255.0ZM530.7 1255.0V1253.0H534.5V1255.0ZM534.5 1255.0V1244.3H536.2V1255.0ZM536.2 1255.0V1240.7H538.3V1255.0ZM538.3 1255.0V1244.3H540.2V1255.0ZM540.2 1255.0V1247.8H542.2V1255.0ZM542.2 1255.0V1238.0H543.8V1255.0ZM543.8 1255.0V1242.3H545.7V1255.0ZM545.7 1255.0V1250.2H547.1V1249.5H548.4V1249.8H549.8V1255.0ZM549.8 1255.0V1244.3H551.4V1255.0ZM551.4 1255.0V1229.5H553.3V1255.0ZM553.3 1255.0V1238.5H555.2V1255.0ZM555.2 1255.0V1247.5H557.2V1255.0ZM557.2 1255.0V1245.1H559.1V1255.0ZM559.1 1255.0V1247.3H560.0V1255.0ZM560.0 1255.0V1246.2H562.7V1255.0ZM562.7 1255.0V1241.3H564.9V1255.0ZM564.9 1255.0V1245.6H566.8V1255.0ZM566.8 1255.0V1242.3H569.0V1255.0ZM569.0 1255.0V1246.1H570.6V1243.2H572.3V1255.0ZM572.3 1255.0V1236.3H574.2V1255.0ZM574.2 1255.0V1216.7H576.4V1255.0ZM576.4 1255.0V1223.8H578.0V1255.0ZM578.0 1255.0V1239.9H580.2V1255.0ZM580.2 1255.0V1234.7H581.8V1255.0ZM581.8 1255.0V1230.9H583.7V1255.0ZM583.7 1255.0V1239.9H585.9V1255.0ZM585.9 1255.0V1232.5H587.5V1255.0ZM587.5 1255.0V1220.5H589.4V1255.0ZM589.4 1255.0V1233.6H591.1V1255.0ZM591.1 1255.0V1230.9H593.0V1255.0ZM593.0 1255.0V1239.9H594.9V1255.0ZM594.9 1255.0V1238.0H596.8V1255.0ZM596.8 1255.0V1245.6H599.0V1255.0ZM599.0 1255.0V1236.3H600.6V1255.0ZM600.6 1255.0V1232.5H602.8V1255.0ZM602.8 1255.0V1240.2H604.7V1255.0ZM604.7 1255.0V1245.6H606.3V1255.0ZM606.3 1255.0V1242.3H608.0V1255.0ZM608.0 1255.0V1245.6H609.9V1255.0ZM609.9 1255.0V1244.0H612.1V1255.0ZM612.1 1255.0V1242.3H614.0V1255.0ZM614.0 1255.0V1251.9H615.4V1251.8H616.7V1251.3H618.0V1251.7H619.4V1255.0ZM619.4 1255.0V1247.8H621.6V1255.0ZM621.6 1255.0V1251.6H623.5V1255.0ZM623.5 1255.0V1248.9H625.4V1255.0ZM625.4 1255.0V1250.7H626.9V1251.0H628.3V1251.0H629.8V1250.2H631.2V1255.0ZM631.2 1255.0V1244.0H632.8V1255.0ZM632.8 1255.0V1249.7H635.0V1255.0ZM635.0 1255.0V1244.0H636.9V1255.0ZM636.9 1255.0V1236.3H638.5V1255.0ZM638.5 1255.0V1239.0H641.1V1255.0ZM641.1 1255.0V1244.5H642.5V1255.0ZM642.5 1255.0V1248.9H644.2V1248.1H646.0V1255.0ZM646.0 1255.0V1242.3H647.9V1255.0ZM647.9 1255.0V1249.7H650.1V1255.0ZM650.1 1255.0V1243.7H651.9V1243.4H653.6V1255.0ZM653.6 1255.0V1238.5H655.8V1255.0ZM655.8 1255.0V1240.7H657.4V1255.0ZM657.4 1255.0V1236.9H659.4V1255.0ZM659.4 1255.0V1242.3H661.3V1255.0ZM661.3 1255.0V1245.6H662.9V1255.0ZM662.9 1255.0V1240.2H665.1V1255.0ZM665.1 1255.0V1244.0H667.0V1255.0ZM667.0 1255.0V1238.5H668.9V1255.0ZM668.9 1255.0V1245.9H670.8V1255.0ZM670.8 1255.0V1229.3H673.0V1255.0ZM673.0 1255.0V1218.1H674.9V1255.0ZM674.9 1255.0V1208.0H676.5V1255.0ZM676.5 1255.0V1202.3H678.2V1255.0ZM678.2 1255.0V1204.7H680.1V1255.0ZM680.1 1255.0V1218.4H682.0V1255.0ZM682.0 1255.0V1229.3H683.9V1255.0ZM683.9 1255.0V1239.7H685.3V1241.8H686.6V1241.4H688.0V1255.0ZM688.0 1255.0V1243.9H689.3V1246.1H690.5V1246.2H691.8V1255.0ZM691.8 1255.0V1245.9H693.7V1255.0ZM693.7 1255.0V1237.4H695.4V1237.9H697.0V1255.0ZM697.0 1255.0V1246.0H698.4V1246.2H699.9V1244.5H701.3V1243.8H702.7V1255.0ZM702.7 1255.0V1248.0H704.1V1246.2H705.4V1246.3H706.8V1255.0ZM706.8 1255.0V1237.4H708.7V1255.0ZM708.7 1255.0V1242.8H710.1V1243.5H711.5V1244.7H712.8V1244.9H714.2V1255.0ZM714.2 1255.0V1245.9H716.1V1255.0ZM716.1 1255.0V1248.3H718.0V1255.0ZM718.0 1255.0V1251.6H720.0V1255.0ZM720.0 1255.0V1250.2H721.3V1251.2H722.5V1250.5H723.8V1255.0ZM723.8 1255.0V1248.6H725.5V1255.0ZM725.5 1255.0V1253.3H727.6V1255.0ZM727.6 1255.0V1251.1H729.0V1250.4H730.5V1250.7H732.0V1251.1H733.4V1255.0ZM733.4 1255.0V1247.8H735.0V1255.0ZM735.0 1255.0V1244.3H736.9V1255.0ZM736.9 1255.0V1249.3H738.4V1248.1H739.8V1249.5H741.3V1255.0ZM741.3 1255.0V1247.8H742.9V1255.0ZM742.9 1255.0V1250.5H744.3V1255.0ZM744.3 1255.0V1245.2H746.0V1244.0H747.8V1255.0ZM747.8 1255.0V1246.2H749.7V1255.0ZM749.7 1255.0V1247.2H751.1V1247.8H752.4V1248.5H753.8V1255.0ZM753.8 1255.0V1252.7H756.0V1255.0ZM756.0 1255.0V1250.0H758.2V1255.0ZM758.2 1255.0V1245.6H759.8V1255.0ZM759.8 1255.0V1247.8H762.0V1255.0ZM762.0 1255.0V1250.5H764.2V1255.0ZM764.2 1255.0V1253.0H765.8V1255.0ZM765.8 1255.0V1249.7H767.2V1250.8H768.5V1251.1H769.9V1250.7H771.3V1255.0ZM771.3 1255.0V1246.2H772.9V1255.0ZM772.9 1255.0V1250.9H774.2V1251.4H775.4V1251.3H776.7V1255.0ZM776.7 1255.0V1245.5H778.0V1244.8H779.2V1246.2H780.5V1255.0ZM780.5 1255.0V1242.3H782.2V1255.0ZM782.2 1255.0V1247.2H783.5V1245.8H784.7V1245.5H786.0V1255.0ZM786.0 1255.0V1244.3H788.2V1255.0ZM788.2 1255.0V1241.8H790.1V1255.0ZM790.1 1255.0V1234.7H791.7V1255.0ZM791.7 1255.0V1229.3H793.9V1255.0ZM793.9 1255.0V1238.5H795.5V1255.0ZM795.5 1255.0V1240.4H797.4V1255.0ZM797.4 1255.0V1247.8H799.1V1255.0ZM799.1 1255.0V1241.5H801.1V1255.0ZM801.1 1255.0V1244.3H803.3V1255.0ZM803.3 1255.0V1242.6H805.5V1255.0ZM805.5 1255.0V1238.5H807.4V1255.0ZM807.4 1255.0V1232.5H809.1V1232.3H810.9V1255.0ZM810.9 1255.0V1240.7H813.1V1255.0ZM813.1 1255.0V1245.0H814.8V1246.4H816.4V1255.0ZM816.4 1255.0V1240.7H818.3V1255.0ZM818.3 1255.0V1242.6H820.2V1255.0ZM820.2 1255.0V1248.6H822.4V1255.0ZM822.4 1255.0V1248.0H824.0V1248.1H825.6V1255.0ZM825.6 1255.0V1240.2H828.1V1255.0ZM828.1 1255.0V1233.6H830.0V1255.0ZM830.0 1255.0V1218.1H831.6V1255.0ZM831.6 1255.0V1212.1H833.5V1255.0ZM833.5 1255.0V1219.7H835.4V1255.0ZM835.4 1255.0V1227.1H837.4V1255.0ZM837.4 1255.0V1218.9H839.3V1255.0ZM839.3 1255.0V1227.6H840.9V1255.0ZM840.9 1255.0V1231.4H843.1V1255.0ZM843.1 1255.0V1236.9H845.0V1255.0ZM845.0 1255.0V1244.0H846.9V1255.0ZM846.9 1255.0V1247.3H849.1V1255.0ZM849.1 1255.0V1250.0H851.3V1255.0ZM851.3 1255.0V1251.4H852.9V1251.6H854.5V1255.0ZM854.5 1255.0V1250.0H856.7V1255.0ZM856.7 1255.0V1247.8H858.4V1249.7H860.0V1255.0ZM860.0 1255.0V1244.3H862.2V1255.0ZM862.2 1255.0V1245.6H864.1V1255.0ZM864.1 1255.0V1242.1H865.5V1242.7H867.0V1241.7H868.4V1243.4H869.8V1255.0ZM869.8 1255.0V1238.0H871.4V1255.0ZM871.4 1255.0V1228.5H873.3V1255.0ZM873.3 1255.0V1221.0H875.2V1255.0ZM875.2 1255.0V1220.0H877.4V1255.0ZM877.4 1255.0V1218.0H879.1V1255.0ZM879.1 1255.0V1200.0H880.8V1255.0ZM880.8 1255.0V1225.5H882.8V1255.0ZM882.8 1255.0V1205.5H884.4V1255.0ZM884.4 1255.0V1208.6H885.9V1220.5H887.4V1214.4H888.9V1255.0ZM888.9 1255.0V1216.0H890.0V1255.0ZM890.0 1255.0V1196.9H891.6V1194.1H893.3V1255.0ZM893.3 1255.0V1201.0H895.6V1255.0ZM895.6 1255.0V1175.5H898.3V1255.0ZM898.3 1255.0V1169.0H899.7V1255.0ZM899.7 1255.0V1186.0H901.7V1255.0ZM901.7 1255.0V1209.0H903.9V1255.0ZM903.9 1255.0V1205.0H905.0V1255.0ZM905.0 1255.0V1220.0H907.2V1255.0ZM907.2 1255.0V1233.0H909.4V1255.0ZM909.4 1255.0V1228.0H910.6V1255.0ZM910.6 1255.0V1237.6H912.2V1255.0ZM912.2 1255.0V1234.0H914.4V1255.0ZM914.4 1255.0V1240.0H915.0V1255.0ZM915.0 1255.0V1219.4H916.7V1255.0ZM916.7 1255.0V1244.0H917.8V1255.0ZM917.8 1255.0V1250.0H919.5V1250.0H921.1V1255.0ZM921.1 1255.0V1253.5H926.8V1255.0ZM926.8 1255.0V1247.4H928.5V1247.1H930.2V1255.0ZM930.2 1255.0V1253.0H936.2V1255.0ZM936.2 1255.0V1250.9H937.7V1250.5H939.3V1250.2H940.8V1250.2H942.4V1250.8H943.9V1255.0ZM943.9 1255.0V1253.0H946.4V1255.0ZM946.4 1255.0V1245.9H947.6V1245.8H948.8V1246.5H950.0V1255.0ZM950.0 1255.0V1244.4H952.0V1255.0ZM952.0 1255.0V1247.0H954.1V1255.0ZM954.1 1255.0V1250.5H955.5V1250.9H956.9V1250.6H958.4V1250.6H959.8V1251.3H961.2V1250.5H962.6V1255.0ZM962.6 1255.0V1247.0H964.0V1255.0ZM964.0 1255.0V1251.0H965.4V1251.1H966.8V1251.3H968.3V1251.7H969.7V1251.3H971.1V1255.0ZM971.1 1255.0V1251.2H972.5V1251.4H974.0V1250.9H975.4V1251.8H976.8V1251.0H978.2V1251.8H979.7V1251.2H981.1V1251.3H982.5V1251.6H983.9V1251.0H985.4V1251.3H986.8V1251.1H988.2V1255.0ZM988.2 1255.0V1251.1H989.7V1251.8H991.2V1252.1H992.8V1251.8H994.3V1251.4H995.8V1255.0ZM995.8 1255.0V1235.1H998.4V1255.0ZM998.4 1255.0V1242.0H1000.9V1255.0ZM1000.9 1255.0V1249.7H1002.2V1249.8H1003.6V1248.4H1005.0V1248.8H1006.3V1249.3H1007.6V1248.4H1009.0V1249.5H1010.4V1248.8H1011.7V1249.7H1013.0V1249.3H1014.4V1248.6H1015.8V1248.4H1017.1V1255.0ZM1017.1 1255.0V1244.9H1018.5V1246.3H1019.9V1245.7H1021.3V1246.5H1022.7V1247.0H1024.1V1246.0H1025.5V1245.0H1026.9V1245.0H1028.3V1245.4H1029.7V1244.7H1031.1V1246.6H1032.5V1255.0ZM1032.5 1255.0V1251.9H1033.8V1251.6H1035.0V1251.8H1036.3V1251.9H1037.6V1255.0ZM1037.6 1255.0V1243.2H1039.0V1242.4H1040.4V1242.9H1041.8V1255.0ZM1041.8 1255.0V1248.7H1043.5V1247.6H1045.3V1255.0ZM1045.3 1255.0V1236.0H1047.0V1255.0ZM1047.0 1255.0V1247.3H1048.4V1248.4H1049.8V1249.2H1051.2V1255.0ZM1051.2 1255.0V1252.6H1061.4V1255.0ZM1061.4 1255.0V1248.7H1063.2V1246.7H1064.9V1255.0ZM1064.9 1255.0V1252.1H1066.4V1251.3H1067.9V1251.5H1069.4V1251.8H1070.8V1251.2H1072.3V1252.1H1073.8V1252.0H1075.3V1251.6H1076.8V1255.0ZM1076.8 1255.0V1250.0H1078.2V1248.5H1079.6V1249.6H1081.0V1255.0ZM1081.0 1255.0V1252.0H1082.4V1252.1H1083.8V1251.4H1085.2V1251.6H1086.6V1251.4H1088.0V1251.4H1089.4V1251.2H1090.8V1251.1H1092.2V1251.4H1093.6V1251.9H1094.9V1251.6H1096.3V1251.9H1097.7V1252.1H1099.1V1251.6H1100.5V1251.3H1101.9V1251.9H1103.3V1251.8H1104.7V1251.7H1106.1V1251.3H1107.5V1255.0ZM1107.5 1255.0V1249.1H1108.8V1248.9H1110.0V1248.7H1111.3V1249.3H1112.6V1255.0ZM1112.6 1255.0V1253.0H1126.2V1255.0ZM1126.2 1255.0V1250.3H1127.6V1250.2H1129.0V1251.3H1130.5V1250.1H1131.9V1250.4H1133.3V1251.2H1134.7V1250.8H1136.1V1250.5H1137.5V1250.2H1139.0V1250.9H1140.4V1250.6H1141.8V1250.2H1143.2V1255.0ZM1143.2 1255.0V1245.1H1144.5V1244.7H1145.8V1246.1H1147.1V1245.5H1148.4V1255.0ZM1148.4 1255.0V1253.0H1151.8V1255.0ZM1151.8 1255.0V1254.3H1155.0V1255.0ZM1158.6 1255.0V1250.4H1159.9V1249.5H1161.2V1249.4H1162.4V1249.7H1163.7V1249.5H1165.0V1255.0ZM1165.0 1255.0V1251.9H1166.4V1251.1H1167.8V1251.0H1169.1V1251.0H1170.5V1251.5H1171.9V1255.0ZM1174.5 1255.0V1248.6H1175.8V1249.5H1177.2V1248.4H1178.5V1248.5H1179.9V1249.4H1181.2V1249.9H1182.6V1249.3H1184.0V1249.0H1185.3V1248.6H1186.7V1249.2H1188.0V1250.0H1189.4V1248.6H1190.7V1255.0ZM1193.2 1255.0V1252.6H1209.4V1255.0ZM1209.4 1255.0V1252.6H1217.9V1255.0ZM1217.9 1255.0V1253.8H1240.1V1255.0ZM1240.1 1255.0V1248.6H1241.4V1246.8H1242.7V1248.3H1243.9V1248.0H1245.2V1255.0ZM1245.2 1255.0V1251.2H1246.6V1252.0H1247.9V1251.9H1249.3V1251.5H1250.6V1251.3H1252.0V1251.2H1253.4V1251.3H1254.7V1251.1H1256.1V1251.6H1257.4V1251.1H1258.8V1255.0ZM1258.8 1255.0V1254.0H1262.2V1255.0ZM1262.2 1255.0V1248.6H1264.0V1248.2H1265.7V1255.0ZM1265.7 1255.0V1253.0H1272.5V1255.0ZM1272.5 1255.0V1251.5H1273.9V1251.8H1275.2V1251.3H1276.6V1251.4H1277.9V1251.5H1279.3V1251.2H1280.7V1251.5H1282.0V1251.8H1283.4V1251.7H1284.7V1251.2H1286.1V1255.0ZM1286.1 1255.0V1253.0H1294.6V1255.0ZM1294.6 1255.0V1251.1H1295.9V1251.9H1297.3V1251.2H1298.6V1251.0H1299.9V1251.5H1301.3V1251.5H1302.6V1251.9H1303.9V1251.5H1305.3V1251.6H1306.6V1255.0ZM1306.6 1255.0V1248.9H1308.0V1250.0H1309.3V1248.3H1310.7V1249.1H1312.0V1249.3H1313.4V1255.0ZM1313.4 1255.0V1245.1H1314.8V1245.8H1316.1V1246.0H1317.5V1245.4H1318.8V1247.2H1320.2V1255.0ZM1320.2 1255.0V1252.3H1321.6V1252.4H1323.0V1251.9H1324.5V1251.9H1325.9V1252.5H1327.3V1252.3H1328.7V1252.6H1330.1V1252.4H1331.5V1252.0H1333.0V1252.0H1334.4V1252.3H1335.8V1252.5H1337.2V1255.0ZM1337.2 1255.0V1253.0H1357.7V1255.0ZM1357.7 1255.0V1250.4H1359.1V1249.7H1360.4V1249.2H1361.8V1250.5H1363.1V1249.4H1364.5V1255.0ZM1364.5 1255.0V1253.3H1376.4V1255.0ZM1376.4 1255.0V1248.7H1377.7V1248.3H1379.0V1248.2H1380.2V1247.1H1381.5V1255.0ZM1381.5 1255.0V1252.0H1382.9V1252.0H1384.4V1251.7H1385.8V1252.2H1387.2V1251.6H1388.7V1252.2H1390.1V1251.8H1391.6V1252.1H1393.0V1252.1H1394.4V1251.8H1395.9V1251.9H1397.3V1252.0H1398.8V1251.9H1400.2V1251.8H1401.6V1252.2H1403.1V1252.1H1404.5V1255.0Z" fill="#ff3334"/>
<path d="M352.7 1368.1V1360.1H354.4V1368.1ZM354.4 1368.1V1365.5H355.7V1365.5H357.0V1365.6H358.4V1365.3H359.7V1368.1ZM359.7 1368.1V1357.5H362.4V1368.1ZM362.4 1368.1V1361.0H364.2V1368.1ZM364.2 1368.1V1357.5H366.8V1368.1ZM366.8 1368.1V1364.6H369.5V1368.1ZM373.9 1368.1V1364.6H376.6V1368.1ZM379.2 1368.1V1365.5H380.4V1365.3H381.6V1365.8H382.8V1368.1ZM389.0 1368.1V1365.4H390.5V1365.3H391.9V1365.3H393.4V1368.1ZM393.4 1368.1V1360.3H394.6V1360.3H395.8V1358.7H397.0V1368.1ZM397.0 1368.1V1362.9H398.4V1361.4H399.8V1361.6H401.3V1363.0H402.7V1362.8H404.1V1368.1ZM404.1 1368.1V1365.4H405.6V1365.8H407.0V1365.9H408.5V1368.1ZM408.5 1368.1V1364.6H409.5V1368.1ZM415.6 1368.1V1364.5H417.1V1364.9H418.5V1364.5H420.0V1368.1ZM420.0 1368.1V1361.0H422.7V1368.1ZM427.1 1368.1V1364.5H428.6V1364.1H430.0V1363.8H431.5V1368.1ZM431.5 1368.1V1361.1H432.7V1360.6H433.9V1359.3H435.1V1368.1ZM435.1 1368.1V1365.4H437.7V1368.1ZM437.7 1368.1V1353.9H440.4V1368.1ZM440.4 1368.1V1361.9H442.2V1368.1ZM447.5 1368.1V1364.4H448.8V1364.4H450.1V1365.2H451.5V1364.8H452.8V1368.1ZM452.8 1368.1V1357.4H454.6V1358.2H456.3V1368.1ZM456.3 1368.1V1350.4H459.0V1368.1ZM459.0 1368.1V1361.0H461.7V1368.1ZM461.7 1368.1V1354.1H463.4V1356.2H465.2V1368.1ZM465.2 1368.1V1362.4H466.7V1362.3H468.1V1362.5H469.6V1368.1ZM474.1 1368.1V1359.2H476.2V1368.1ZM476.2 1368.1V1347.7H478.0V1368.1ZM478.0 1368.1V1364.8H479.3V1364.8H480.7V1364.8H482.0V1365.2H483.4V1365.2H484.7V1368.1ZM484.7 1368.1V1362.1H486.0V1360.8H487.4V1360.5H488.7V1360.6H490.0V1368.1ZM490.0 1368.1V1357.3H491.2V1357.5H492.4V1353.9H493.6V1368.1ZM493.6 1368.1V1361.9H496.2V1368.1ZM498.9 1368.1V1363.7H501.5V1368.1ZM504.2 1368.1V1351.8H505.7V1350.2H507.1V1352.6H508.6V1368.1ZM508.6 1368.1V1359.2H511.3V1368.1ZM511.3 1368.1V1353.9H513.9V1368.1ZM513.9 1368.1V1363.7H515.7V1368.1ZM517.5 1368.1V1361.6H518.8V1361.5H520.1V1361.6H521.5V1361.3H522.8V1368.1ZM522.8 1368.1V1364.7H524.0V1363.7H525.2V1363.6H526.4V1368.1ZM536.1 1368.1V1345.9H538.8V1368.1ZM538.8 1368.1V1352.1H541.4V1368.1ZM541.4 1368.1V1366.1H544.0V1368.1ZM544.0 1368.1V1362.9H545.5V1362.4H546.9V1361.9H548.4V1362.5H549.8V1362.9H551.2V1363.0H552.7V1362.3H554.1V1363.2H555.6V1368.1ZM555.6 1368.1V1356.0H557.4V1356.4H559.1V1368.1ZM559.1 1368.1V1362.0H560.4V1361.7H561.8V1362.1H563.1V1362.5H564.5V1362.1H565.8V1362.3H567.1V1361.4H568.5V1361.8H569.8V1368.1ZM569.8 1368.1V1353.1H572.4V1368.1ZM572.4 1368.1V1340.6H574.2V1368.1ZM574.2 1368.1V1355.2H575.7V1352.3H577.1V1353.1H578.6V1368.1ZM578.6 1368.1V1361.8H580.1V1361.7H581.7V1362.5H583.2V1361.6H584.8V1368.1ZM584.8 1368.1V1350.6H586.3V1351.5H587.8V1351.1H589.3V1368.1ZM589.3 1368.1V1364.6H590.7V1364.9H592.1V1364.6H593.6V1365.3H595.0V1365.0H596.4V1368.1ZM600.8 1368.1V1359.1H602.7V1368.1ZM602.7 1368.1V1355.7H604.4V1368.1ZM604.4 1368.1V1362.4H605.6V1363.2H606.8V1362.6H608.0V1368.1ZM608.0 1368.1V1365.5H609.5V1365.5H610.9V1365.8H612.4V1368.1ZM614.2 1368.1V1362.5H615.7V1362.9H617.1V1363.4H618.6V1368.1ZM618.6 1368.1V1357.5H621.3V1368.1ZM621.3 1368.1V1360.1H623.0V1368.1ZM623.0 1368.1V1356.6H625.7V1368.1ZM625.7 1368.1V1359.4H627.5V1359.6H629.2V1368.1ZM629.2 1368.1V1366.3H631.0V1368.1ZM631.0 1368.1V1360.1H633.7V1368.1ZM640.8 1368.1V1361.4H642.1V1361.7H643.5V1360.4H644.8V1361.2H646.1V1368.1ZM647.9 1368.1V1361.1H649.4V1360.9H650.8V1360.5H652.3V1368.1ZM652.3 1368.1V1358.3H654.0V1356.1H655.8V1368.1ZM655.8 1368.1V1360.1H658.5V1368.1ZM658.5 1368.1V1365.4H661.1V1368.1ZM661.1 1368.1V1363.7H662.3V1364.3H663.5V1364.1H664.7V1368.1ZM667.4 1368.1V1364.6H670.0V1368.1ZM670.0 1368.1V1361.0H671.5V1360.6H672.9V1360.2H674.4V1368.1ZM678.0 1368.1V1364.6H680.6V1368.1ZM680.6 1368.1V1347.7H682.4V1368.1ZM682.4 1368.1V1356.6H684.2V1368.1ZM686.0 1368.1V1364.6H688.6V1368.1ZM688.6 1368.1V1362.8H691.3V1368.1ZM691.3 1368.1V1355.7H693.1V1368.1ZM693.1 1368.1V1365.3H694.9V1365.1H696.6V1368.1ZM699.3 1368.1V1364.4H701.0V1364.8H702.8V1368.1ZM702.8 1368.1V1354.1H704.5V1352.0H706.3V1368.1ZM706.3 1368.1V1358.9H707.5V1357.6H708.7V1358.7H709.9V1368.1ZM709.9 1368.1V1360.8H711.2V1362.4H712.5V1361.3H713.9V1360.9H715.2V1368.1ZM715.2 1368.1V1365.3H716.4V1364.4H717.6V1365.2H718.8V1368.1ZM718.8 1368.1V1366.3H722.3V1368.1ZM722.3 1368.1V1361.6H723.6V1362.2H725.0V1361.5H726.3V1361.3H727.6V1368.1ZM727.6 1368.1V1364.6H728.8V1363.4H730.0V1364.1H731.2V1368.1ZM731.2 1368.1V1355.7H733.8V1368.1ZM733.8 1368.1V1358.4H736.5V1368.1ZM736.5 1368.1V1353.1H738.2V1368.1ZM738.2 1368.1V1360.6H739.4V1360.4H740.6V1361.0H741.8V1368.1ZM745.3 1368.1V1365.1H746.6V1364.7H748.0V1364.8H749.4V1365.1H750.7V1368.1ZM750.7 1368.1V1359.2H752.5V1360.4H754.2V1368.1ZM754.2 1368.1V1347.7H756.0V1368.1ZM756.0 1368.1V1356.6H757.7V1368.1ZM760.4 1368.1V1365.4H762.2V1368.1ZM765.7 1368.1V1363.9H766.9V1363.6H768.1V1363.9H769.3V1368.1ZM769.3 1368.1V1355.7H771.9V1368.1ZM771.9 1368.1V1362.2H773.1V1361.0H774.3V1361.7H775.5V1368.1ZM775.5 1368.1V1356.6H777.2V1368.1ZM777.2 1368.1V1361.6H778.4V1361.9H779.6V1363.2H780.8V1368.1ZM780.8 1368.1V1361.4H782.2V1361.5H783.6V1363.1H785.0V1361.6H786.3V1362.5H787.7V1362.4H789.1V1361.5H790.5V1368.1ZM792.3 1368.1V1360.1H795.0V1368.1ZM799.4 1368.1V1365.4H802.1V1368.1ZM805.6 1368.1V1365.4H808.3V1368.1ZM813.6 1368.1V1365.4H816.2V1368.1ZM824.2 1368.1V1362.0H825.7V1361.4H827.1V1360.6H828.6V1368.1ZM828.6 1368.1V1355.7H831.3V1368.1ZM836.6 1368.1V1351.3H839.3V1368.1ZM839.3 1368.1V1356.6H841.0V1368.1ZM843.7 1368.1V1364.6H845.5V1364.9H847.2V1368.1ZM847.2 1368.1V1358.5H848.7V1359.0H850.3V1359.5H851.8V1368.1ZM856.2 1368.1V1361.6H857.5V1360.4H858.9V1360.8H860.2V1361.4H861.5V1368.1ZM866.0 1368.1V1365.3H867.5V1364.8H869.1V1365.2H870.7V1364.9H872.2V1368.1ZM876.6 1368.1V1362.9H877.9V1363.2H879.3V1363.5H880.6V1363.0H881.9V1363.3H883.3V1362.7H884.6V1368.1ZM890.8 1368.1V1358.4H893.4V1368.1ZM893.4 1368.1V1354.8H894.8V1352.8H896.1V1353.0H897.5V1368.1ZM901.4 1368.1V1359.2H903.2V1368.1ZM903.2 1368.1V1342.4H905.3V1368.1ZM905.3 1368.1V1353.9H906.9V1356.0H908.5V1368.1ZM908.5 1368.1V1362.3H910.0V1360.7H911.4V1360.9H912.9V1368.1ZM914.7 1368.1V1362.1H916.2V1362.6H917.6V1362.8H919.1V1368.1ZM920.9 1368.1V1360.2H922.6V1360.5H924.4V1368.1ZM924.4 1368.1V1362.2H925.9V1362.1H927.4V1361.9H928.9V1368.1ZM928.9 1368.1V1353.3H930.6V1353.0H932.4V1368.1ZM932.4 1368.1V1360.1H935.1V1368.1ZM935.1 1368.1V1348.6H937.7V1368.1ZM937.7 1368.1V1357.7H939.2V1357.9H940.7V1358.0H942.2V1368.1ZM942.2 1368.1V1362.5H944.0V1362.4H945.7V1368.1ZM945.7 1368.1V1366.1H949.3V1368.1ZM949.3 1368.1V1361.2H951.0V1360.8H952.8V1368.1ZM952.8 1368.1V1363.8H954.5V1364.5H956.3V1368.1ZM956.3 1368.1V1358.4H959.0V1368.1ZM959.0 1368.1V1363.7H961.7V1368.1ZM961.7 1368.1V1349.7H963.2V1352.5H964.6V1352.4H966.1V1368.1ZM966.1 1368.1V1365.4H967.9V1368.1ZM972.3 1368.1V1357.7H973.8V1358.1H975.2V1357.8H976.7V1368.1ZM976.7 1368.1V1352.3H978.2V1351.8H979.7V1353.2H981.2V1368.1ZM981.2 1368.1V1362.6H982.5V1361.9H983.9V1361.7H985.2V1363.1H986.5V1368.1ZM986.5 1368.1V1361.6H987.8V1359.9H989.1V1360.4H990.5V1360.0H991.8V1368.1ZM991.8 1368.1V1356.9H993.5V1356.0H995.3V1368.1ZM995.3 1368.1V1362.0H996.8V1360.8H998.3V1361.8H999.8V1368.1ZM999.8 1368.1V1351.3H1002.4V1368.1ZM1002.4 1368.1V1361.0H1005.1V1368.1ZM1009.5 1368.1V1360.3H1011.0V1359.5H1012.4V1361.1H1013.9V1368.1ZM1017.5 1368.1V1359.7H1019.2V1359.2H1021.0V1368.1ZM1024.6 1368.1V1357.9H1025.9V1359.3H1027.3V1359.5H1028.6V1360.3H1029.9V1358.0H1031.3V1360.3H1032.6V1368.1ZM1037.9 1368.1V1365.9H1039.2V1365.5H1040.6V1365.6H1041.9V1365.4H1043.2V1368.1ZM1043.2 1368.1V1358.1H1044.8V1356.5H1046.3V1358.9H1047.9V1358.4H1049.4V1368.1ZM1052.9 1368.1V1356.8H1054.4V1358.8H1055.9V1358.1H1057.3V1356.6H1058.8V1356.7H1060.3V1358.2H1061.8V1368.1ZM1066.2 1368.1V1360.8H1067.5V1360.2H1068.9V1359.2H1070.2V1360.2H1071.6V1368.1ZM1071.6 1368.1V1364.5H1073.0V1363.7H1074.4V1363.9H1075.8V1363.5H1077.3V1363.4H1078.7V1363.5H1080.1V1364.1H1081.5V1363.6H1082.9V1364.3H1084.3V1364.2H1085.7V1364.1H1087.1V1363.4H1088.6V1363.5H1090.0V1364.3H1091.4V1364.2H1092.8V1368.1ZM1092.8 1368.1V1355.7H1094.6V1368.1ZM1094.6 1368.1V1363.4H1096.3V1363.4H1098.1V1368.1ZM1098.1 1368.1V1356.9H1099.6V1356.9H1101.2V1357.6H1102.7V1356.2H1104.2V1368.1ZM1104.2 1368.1V1360.6H1105.6V1361.1H1107.1V1360.5H1108.5V1368.1ZM1108.5 1368.1V1364.1H1109.9V1364.6H1111.3V1363.9H1112.7V1368.1ZM1115.8 1368.1V1362.6H1117.1V1363.5H1118.4V1363.9H1119.6V1363.1H1120.9V1363.1H1122.2V1368.1ZM1122.2 1368.1V1346.1H1123.6V1343.3H1125.0V1345.5H1126.4V1368.1ZM1132.8 1368.1V1362.7H1134.3V1363.9H1135.8V1363.1H1137.2V1362.7H1138.7V1363.8H1140.2V1368.1ZM1140.2 1368.1V1366.0H1144.4V1368.1ZM1144.4 1368.1V1345.9H1147.5V1368.1ZM1147.5 1368.1V1358.6H1149.7V1368.1ZM1157.1 1368.1V1365.5H1158.4V1364.9H1159.7V1364.7H1161.0V1365.5H1162.3V1368.1ZM1162.3 1368.1V1356.8H1163.9V1358.6H1165.5V1368.1ZM1165.5 1368.1V1360.7H1166.9V1360.9H1168.3V1361.8H1169.7V1368.1ZM1169.7 1368.1V1352.0H1171.1V1348.9H1172.6V1350.3H1174.0V1368.1ZM1174.0 1368.1V1352.2H1175.4V1353.9H1176.8V1354.2H1178.2V1351.2H1179.6V1352.6H1181.0V1353.4H1182.4V1368.1ZM1182.4 1368.1V1363.1H1183.7V1362.8H1185.0V1362.8H1186.2V1362.5H1187.5V1363.3H1188.8V1368.1ZM1188.8 1368.1V1356.2H1190.2V1356.7H1191.6V1356.1H1193.0V1368.1ZM1193.0 1368.1V1361.7H1194.3V1361.6H1195.7V1361.5H1197.0V1361.4H1198.4V1362.0H1199.7V1362.2H1201.1V1361.8H1202.4V1361.7H1203.8V1362.4H1205.1V1362.4H1206.5V1362.9H1207.8V1368.1ZM1207.8 1368.1V1351.2H1209.2V1349.9H1210.6V1353.0H1212.0V1368.1ZM1212.0 1368.1V1355.8H1213.4V1355.6H1214.8V1354.7H1216.2V1368.1ZM1216.2 1368.1V1366.0H1219.4V1368.1ZM1219.4 1368.1V1354.4H1222.6V1368.1ZM1222.6 1368.1V1364.5H1224.0V1363.6H1225.4V1364.7H1226.8V1364.4H1228.2V1364.7H1229.6V1364.0H1231.0V1368.1ZM1231.0 1368.1V1358.5H1232.4V1360.2H1233.8V1360.5H1235.2V1368.1ZM1235.2 1368.1V1358.4H1236.5V1358.0H1237.8V1356.9H1239.0V1359.7H1240.3V1359.5H1241.6V1368.1ZM1241.6 1368.1V1349.1H1243.7V1368.1ZM1250.0 1368.1V1364.6H1251.4V1364.6H1252.9V1364.5H1254.3V1368.1ZM1259.5 1368.1V1352.4H1261.1V1353.0H1262.7V1368.1ZM1262.7 1368.1V1360.9H1264.1V1361.0H1265.5V1360.8H1267.0V1361.0H1268.4V1359.5H1269.8V1360.7H1271.2V1368.1ZM1271.2 1368.1V1351.1H1272.6V1349.6H1274.0V1351.5H1275.4V1368.1ZM1275.4 1368.1V1357.2H1276.8V1354.8H1278.2V1354.7H1279.7V1356.9H1281.1V1356.1H1282.5V1354.5H1283.9V1368.1ZM1283.9 1368.1V1367.1H1286.0V1368.1ZM1286.0 1368.1V1355.4H1289.1V1368.1ZM1289.1 1368.1V1364.2H1290.4V1364.5H1291.8V1364.8H1293.1V1363.6H1294.4V1368.1ZM1294.4 1368.1V1364.8H1295.7V1365.2H1297.1V1365.1H1298.4V1365.1H1299.8V1365.3H1301.1V1364.7H1302.5V1365.0H1303.8V1365.4H1305.2V1365.6H1306.5V1365.2H1307.9V1365.2H1309.2V1368.1ZM1309.2 1368.1V1363.8H1310.6V1363.9H1312.0V1364.1H1313.5V1364.6H1314.9V1364.6H1316.3V1364.4H1317.7V1368.1ZM1317.7 1368.1V1360.8H1319.1V1359.3H1320.5V1360.2H1321.9V1368.1ZM1321.9 1368.1V1366.0H1328.2V1368.1ZM1328.2 1368.1V1357.8H1329.6V1356.7H1331.1V1359.0H1332.5V1368.1ZM1332.5 1368.1V1364.2H1333.9V1364.6H1335.3V1363.9H1336.7V1368.1ZM1336.7 1368.1V1356.5H1338.1V1352.9H1339.5V1352.8H1340.9V1368.1ZM1340.9 1368.1V1361.6H1342.2V1363.0H1343.5V1362.7H1344.7V1361.8H1346.0V1363.0H1347.3V1368.1ZM1347.3 1368.1V1361.3H1348.7V1361.3H1350.1V1360.2H1351.5V1368.1ZM1351.5 1368.1V1354.0H1352.9V1352.7H1354.3V1355.2H1355.7V1368.1ZM1355.7 1368.1V1362.7H1357.0V1363.3H1358.3V1362.5H1359.7V1363.8H1361.0V1362.7H1362.3V1363.6H1363.7V1363.1H1365.0V1363.1H1366.3V1368.1ZM1366.3 1368.1V1350.1H1369.4V1368.1ZM1372.6 1368.1V1366.0H1375.8V1368.1ZM1381.0 1368.1V1359.3H1382.3V1357.2H1383.6V1358.8H1384.8V1358.8H1386.1V1359.6H1387.4V1368.1ZM1387.4 1368.1V1349.7H1388.7V1348.7H1390.1V1347.1H1391.4V1349.4H1392.7V1368.1ZM1392.7 1368.1V1354.6H1394.1V1357.0H1395.5V1355.8H1396.9V1368.1ZM1396.9 1368.1V1352.6H1398.3V1350.0H1399.7V1350.7H1401.1V1368.1Z" fill="#ff3334"/>
<path d="M358.0 1481.5V1478.6H359.5V1479.1H360.9V1478.8H362.4V1481.5ZM367.7 1481.5V1478.8H369.2V1479.2H370.7V1478.9H372.2V1481.5ZM381.0 1481.5V1475.8H382.2V1476.6H383.4V1474.8H384.6V1481.5ZM386.3 1481.5V1477.9H387.6V1478.6H389.0V1478.1H390.4V1478.5H391.7V1481.5ZM439.5 1481.5V1478.4H441.2V1478.2H443.0V1481.5ZM445.7 1481.5V1476.5H447.0V1476.5H448.4V1476.4H449.7V1475.9H451.0V1481.5ZM467.0 1481.5V1478.5H468.6V1478.6H470.1V1478.0H471.6V1478.4H473.2V1481.5ZM479.4 1481.5V1478.6H481.1V1478.9H482.9V1481.5ZM489.1 1481.5V1478.8H490.3V1479.1H491.5V1478.7H492.7V1481.5ZM512.2 1481.5V1478.8H514.8V1481.5ZM522.8 1481.5V1475.8H524.1V1475.7H525.5V1475.8H526.8V1474.5H528.1V1481.5ZM536.1 1481.5V1478.8H537.9V1479.2H539.6V1481.5ZM547.6 1481.5V1478.3H549.1V1477.9H550.6V1478.1H552.0V1478.7H553.5V1478.5H555.0V1478.6H556.5V1481.5ZM564.5 1481.5V1477.2H565.8V1476.7H567.1V1477.3H568.5V1475.9H569.8V1476.7H571.1V1476.6H572.5V1476.3H573.8V1476.1H575.1V1481.5ZM582.2 1481.5V1478.7H584.0V1479.1H585.7V1481.5ZM589.3 1481.5V1479.1H591.0V1479.1H592.8V1481.5ZM599.0 1481.5V1479.4H600.2V1479.1H601.4V1478.8H602.6V1481.5ZM618.6 1481.5V1478.0H621.3V1481.5ZM651.4 1481.5V1474.4H654.1V1481.5ZM654.1 1481.5V1477.7H655.4V1477.9H656.8V1478.1H658.1V1478.1H659.4V1478.8H660.7V1478.4H662.1V1478.4H663.4V1478.1H664.7V1481.5ZM672.7 1481.5V1477.9H674.5V1477.6H676.2V1481.5ZM676.2 1481.5V1475.7H677.5V1475.2H678.9V1475.1H680.2V1475.5H681.5V1481.5ZM681.5 1481.5V1478.6H683.0V1478.0H684.5V1477.8H686.0V1481.5ZM689.5 1481.5V1477.3H691.0V1477.6H692.6V1477.4H694.2V1477.9H695.7V1481.5ZM712.5 1481.5V1478.5H713.7V1478.3H714.9V1478.7H716.1V1481.5ZM725.8 1481.5V1471.0H727.0V1470.6H728.2V1472.6H729.4V1481.5ZM736.5 1481.5V1474.9H738.2V1475.5H740.0V1481.5ZM744.5 1481.5V1479.0H746.2V1479.1H748.0V1481.5ZM752.4 1481.5V1478.5H753.6V1478.2H754.8V1478.0H756.0V1481.5ZM802.1 1481.5V1477.6H803.9V1476.8H805.6V1481.5ZM856.1 1481.5V1478.5H858.9V1481.5ZM863.3 1481.5V1476.8H865.0V1476.6H866.8V1481.5ZM869.5 1481.5V1476.4H871.0V1474.9H872.4V1476.4H873.9V1481.5ZM889.9 1481.5V1468.5H891.6V1469.8H893.4V1481.5ZM901.4 1481.5V1478.2H902.9V1478.2H904.4V1478.5H905.8V1477.8H907.3V1477.7H908.8V1477.9H910.3V1481.5ZM914.7 1481.5V1478.9H916.0V1479.3H917.4V1478.7H918.7V1479.2H920.0V1478.7H921.4V1479.2H922.7V1481.5ZM926.2 1481.5V1478.9H927.6V1478.7H929.0V1479.2H930.5V1479.0H931.9V1479.3H933.3V1481.5ZM952.8 1481.5V1477.3H954.5V1477.1H956.3V1481.5ZM964.3 1481.5V1478.6H965.5V1478.6H966.7V1478.9H967.9V1481.5ZM973.2 1481.5V1477.7H974.8V1477.2H976.3V1477.1H977.9V1477.6H979.4V1481.5ZM979.4 1481.5V1474.7H980.8V1474.2H982.2V1475.9H983.5V1475.5H984.9V1475.0H986.3V1475.7H987.7V1475.1H989.0V1474.7H990.4V1475.6H991.8V1481.5ZM991.8 1481.5V1478.8H994.5V1481.5ZM994.5 1481.5V1476.5H996.0V1476.9H997.4V1476.5H998.9V1481.5ZM1004.2 1481.5V1479.1H1006.0V1478.9H1007.7V1481.5ZM1018.4 1481.5V1478.7H1020.1V1478.1H1021.9V1481.5ZM1069.8 1481.5V1479.3H1071.5V1478.6H1073.3V1481.5ZM1084.8 1481.5V1478.1H1086.3V1478.3H1087.9V1478.3H1089.5V1478.1H1091.0V1481.5ZM1098.1 1481.5V1478.8H1099.3V1478.8H1100.5V1478.8H1101.7V1481.5ZM1103.5 1481.5V1478.3H1105.2V1477.7H1107.0V1481.5ZM1110.0 1481.5V1479.0H1112.0V1481.5ZM1116.0 1481.5V1479.0H1118.0V1481.5ZM1122.0 1481.5V1479.0H1124.0V1481.5ZM1128.0 1481.5V1479.0H1130.0V1481.5ZM1133.0 1481.5V1479.0H1136.0V1481.5ZM1139.0 1481.5V1475.6H1140.5V1475.6H1141.9V1476.4H1143.4V1476.3H1144.8V1476.1H1146.3V1475.5H1147.8V1476.2H1149.2V1476.2H1150.7V1481.5ZM1155.0 1481.5V1479.0H1157.0V1481.5ZM1169.7 1481.5V1479.0H1174.0V1481.5ZM1175.0 1481.5V1476.3H1176.6V1475.5H1178.2V1481.5ZM1178.2 1481.5V1478.9H1179.5V1479.1H1180.8V1478.5H1182.2V1478.3H1183.5V1478.5H1184.8V1478.6H1186.2V1478.5H1187.5V1478.9H1188.8V1481.5ZM1193.0 1481.5V1479.0H1195.0V1481.5ZM1204.6 1481.5V1479.0H1209.9V1481.5ZM1214.0 1481.5V1479.0H1218.3V1481.5ZM1222.6 1481.5V1479.0H1226.8V1481.5ZM1232.1 1481.5V1479.0H1235.2V1481.5ZM1244.8 1481.5V1472.0H1246.4V1473.6H1247.9V1473.4H1249.5V1472.5H1251.1V1481.5ZM1259.5 1481.5V1478.1H1260.8V1478.3H1262.2V1478.6H1263.5V1477.9H1264.8V1481.5ZM1272.2 1481.5V1474.2H1273.6V1474.9H1275.0V1474.7H1276.5V1474.5H1277.9V1474.9H1279.3V1475.3H1280.7V1481.5ZM1283.9 1481.5V1478.5H1287.0V1481.5ZM1302.9 1481.5V1477.7H1304.3V1477.6H1305.7V1478.0H1307.1V1477.8H1308.5V1478.2H1309.9V1477.8H1311.3V1481.5ZM1311.3 1481.5V1476.7H1312.6V1475.8H1313.9V1476.1H1315.1V1475.5H1316.4V1476.9H1317.7V1481.5ZM1317.7 1481.5V1465.9H1320.8V1481.5ZM1320.8 1481.5V1477.0H1321.9V1481.5ZM1330.3 1481.5V1479.0H1332.5V1481.5ZM1347.3 1481.5V1479.0H1350.4V1481.5ZM1357.8 1481.5V1475.7H1359.2V1476.8H1360.6V1476.1H1362.0V1475.4H1363.5V1477.1H1364.9V1476.6H1366.3V1481.5ZM1376.8 1481.5V1476.5H1378.1V1476.5H1379.4V1476.9H1380.8V1475.5H1382.1V1481.5ZM1390.6 1481.5V1476.8H1391.9V1477.4H1393.2V1477.4H1394.6V1477.1H1395.9V1481.5Z" fill="#ff3334"/>
<path d="M352.7 1594.8V1589.5H355.3V1594.8ZM355.3 1594.8V1590.4H358.0V1594.8ZM358.0 1594.8V1587.7H359.7V1594.8ZM359.7 1594.8V1592.1H362.4V1594.8ZM364.2 1594.8V1586.8H366.8V1594.8ZM366.8 1594.8V1577.1H369.5V1594.8ZM369.5 1594.8V1585.9H371.3V1594.8ZM371.3 1594.8V1581.5H373.9V1594.8ZM373.9 1594.8V1590.6H375.1V1590.6H376.3V1589.2H377.5V1594.8ZM382.8 1594.8V1592.4H384.6V1592.3H386.3V1594.8ZM389.0 1594.8V1586.8H391.7V1594.8ZM391.7 1594.8V1588.6H394.3V1594.8ZM394.3 1594.8V1584.5H395.5V1584.4H396.7V1585.9H397.9V1594.8ZM402.3 1594.8V1592.1H404.9V1594.8ZM411.1 1594.8V1592.1H413.8V1594.8ZM420.0 1594.8V1580.6H422.7V1594.8ZM431.5 1594.8V1591.1H433.1V1591.0H434.6V1590.2H436.1V1590.2H437.7V1594.8ZM437.7 1594.8V1578.8H440.4V1594.8ZM440.4 1594.8V1588.8H442.1V1587.5H443.9V1594.8ZM443.9 1594.8V1586.9H445.1V1586.6H446.3V1587.4H447.5V1594.8ZM447.5 1594.8V1584.2H450.1V1594.8ZM450.1 1594.8V1575.3H451.9V1594.8ZM451.9 1594.8V1579.8H454.6V1594.8ZM454.6 1594.8V1587.7H457.2V1594.8ZM457.2 1594.8V1584.7H458.4V1584.3H459.6V1586.6H460.8V1594.8ZM460.8 1594.8V1588.8H462.6V1589.6H464.3V1594.8ZM464.3 1594.8V1581.5H467.0V1594.8ZM467.0 1594.8V1588.3H468.8V1589.9H470.5V1594.8ZM470.5 1594.8V1582.4H473.2V1594.8ZM476.7 1594.8V1590.4H478.5V1594.8ZM478.5 1594.8V1583.3H481.2V1594.8ZM492.7 1594.8V1589.8H494.2V1588.6H495.6V1589.4H497.1V1594.8ZM497.1 1594.8V1586.4H498.4V1586.5H499.8V1586.8H501.1V1588.2H502.4V1594.8ZM502.4 1594.8V1590.4H505.1V1594.8ZM505.1 1594.8V1588.7H506.9V1588.2H508.6V1594.8ZM511.3 1594.8V1585.9H513.0V1587.0H514.8V1594.8ZM514.8 1594.8V1588.0H516.3V1587.8H517.9V1586.9H519.5V1588.1H521.0V1594.8ZM525.5 1594.8V1588.9H527.2V1588.8H529.0V1594.8ZM529.0 1594.8V1591.4H530.4V1591.2H531.8V1591.7H533.3V1591.4H534.7V1591.1H536.1V1594.8ZM536.1 1594.8V1590.6H537.4V1591.1H538.8V1591.0H540.1V1590.1H541.4V1590.5H542.8V1591.0H544.1V1594.8ZM544.1 1594.8V1587.0H545.5V1588.3H546.9V1586.2H548.4V1587.5H549.8V1587.3H551.2V1594.8ZM553.8 1594.8V1587.3H555.3V1588.5H556.8V1587.1H558.3V1594.8ZM558.3 1594.8V1587.1H559.7V1587.2H561.2V1585.7H562.6V1587.6H564.0V1587.1H565.5V1585.8H566.9V1587.2H568.4V1587.1H569.8V1594.8ZM569.8 1594.8V1585.6H571.5V1586.7H573.3V1594.8ZM573.3 1594.8V1590.6H574.5V1590.5H575.7V1591.6H576.9V1594.8ZM576.9 1594.8V1585.1H578.6V1584.1H580.4V1594.8ZM580.4 1594.8V1579.0H581.6V1576.1H582.8V1578.3H584.0V1594.8ZM584.0 1594.8V1583.3H586.6V1594.8ZM588.4 1594.8V1586.0H589.9V1584.8H591.3V1584.5H592.8V1594.8ZM592.8 1594.8V1578.8H595.5V1594.8ZM595.5 1594.8V1575.3H597.2V1594.8ZM597.2 1594.8V1584.6H598.7V1583.6H600.2V1583.1H601.7V1594.8ZM601.7 1594.8V1579.8H602.9V1579.9H604.1V1578.3H605.3V1594.8ZM605.3 1594.8V1585.2H606.5V1585.7H607.7V1584.5H608.9V1594.8ZM608.9 1594.8V1590.4H612.0V1594.8ZM618.6 1594.8V1591.3H621.3V1594.8ZM623.9 1594.8V1590.4H625.2V1589.4H626.5V1590.4H627.9V1589.7H629.2V1594.8ZM629.2 1594.8V1591.8H630.4V1591.6H631.6V1591.3H632.8V1594.8ZM632.8 1594.8V1588.5H634.3V1588.5H635.7V1589.5H637.2V1594.8ZM637.2 1594.8V1583.3H638.4V1584.3H639.6V1583.0H640.8V1594.8ZM640.8 1594.8V1589.9H642.1V1590.6H643.5V1589.7H644.8V1589.5H646.1V1594.8ZM646.1 1594.8V1586.3H647.9V1585.5H649.6V1594.8ZM649.6 1594.8V1591.1H650.8V1591.2H652.0V1591.3H653.2V1594.8ZM653.2 1594.8V1591.5H655.0V1591.6H656.7V1594.8ZM656.7 1594.8V1592.3H658.1V1592.5H659.5V1592.0H661.0V1592.6H662.4V1592.0H663.8V1594.8ZM663.8 1594.8V1591.5H665.2V1591.5H666.6V1591.2H668.1V1591.8H669.5V1591.9H670.9V1591.7H672.3V1592.0H673.7V1591.7H675.2V1591.4H676.6V1591.5H678.0V1594.8ZM681.5 1594.8V1590.4H683.3V1594.8ZM686.8 1594.8V1589.5H688.1V1588.9H689.5V1589.8H690.9V1588.4H692.2V1594.8ZM694.8 1594.8V1588.1H696.3V1587.9H697.9V1588.2H699.5V1586.9H701.0V1594.8ZM702.0 1594.8V1589.8H705.0V1594.8ZM712.5 1594.8V1584.8H714.0V1584.9H715.5V1587.1H717.0V1594.8ZM717.0 1594.8V1585.2H718.3V1585.4H719.6V1585.8H721.0V1583.4H722.3V1594.8ZM722.3 1594.8V1589.2H724.0V1588.2H725.8V1594.8ZM725.8 1594.8V1580.5H727.0V1579.5H728.2V1583.1H729.4V1594.8ZM729.4 1594.8V1583.3H732.0V1594.8ZM732.0 1594.8V1589.1H733.5V1588.6H735.0V1589.9H736.5V1594.8ZM740.9 1594.8V1588.7H742.2V1587.4H743.5V1589.0H744.9V1588.4H746.2V1594.8ZM750.7 1594.8V1590.2H752.0V1590.0H753.4V1590.5H754.7V1590.6H756.0V1594.8ZM763.1 1594.8V1588.1H764.9V1588.5H766.6V1594.8ZM772.8 1594.8V1588.6H774.3V1589.5H775.7V1589.5H777.2V1594.8ZM777.2 1594.8V1583.9H778.4V1585.0H779.6V1584.2H780.8V1594.8ZM780.8 1594.8V1590.4H782.6V1594.8ZM786.1 1594.8V1588.2H787.4V1589.3H788.8V1589.3H790.1V1588.1H791.4V1588.8H792.8V1589.9H794.1V1594.8ZM796.7 1594.8V1591.6H798.2V1591.4H799.6V1592.0H801.0V1591.7H802.5V1591.3H804.0V1591.2H805.4V1591.4H806.8V1591.1H808.3V1594.8ZM818.0 1594.8V1591.6H819.3V1591.7H820.6V1591.2H822.0V1591.7H823.3V1594.8ZM823.3 1594.8V1584.0H824.8V1585.8H826.3V1585.4H827.8V1594.8ZM827.8 1594.8V1590.4H829.1V1589.8H830.5V1590.4H831.8V1590.3H833.1V1594.8ZM840.2 1594.8V1585.9H842.0V1585.0H843.7V1594.8ZM843.7 1594.8V1591.7H845.5V1591.6H847.2V1594.8ZM847.2 1594.8V1577.6H848.7V1579.1H850.3V1578.2H851.8V1594.8ZM851.8 1594.8V1585.9H853.5V1585.3H855.3V1594.8ZM855.3 1594.8V1580.6H858.0V1594.8ZM858.0 1594.8V1590.6H859.5V1589.6H860.9V1590.1H862.4V1594.8ZM862.4 1594.8V1591.8H864.0V1592.1H865.6V1594.8ZM867.7 1594.8V1588.6H870.4V1594.8ZM870.4 1594.8V1585.1H872.2V1594.8ZM872.2 1594.8V1590.4H874.8V1594.8ZM881.0 1594.8V1590.4H882.8V1594.8ZM882.8 1594.8V1583.3H884.6V1594.8ZM884.6 1594.8V1590.4H886.3V1594.8ZM889.0 1594.8V1591.1H890.8V1591.0H892.5V1594.8ZM892.5 1594.8V1586.1H894.0V1584.5H895.5V1585.2H897.0V1594.8ZM897.0 1594.8V1577.1H899.6V1594.8ZM899.6 1594.8V1586.5H900.8V1586.2H902.0V1586.8H903.2V1594.8ZM903.2 1594.8V1582.4H905.8V1594.8ZM905.8 1594.8V1589.2H907.1V1590.1H908.5V1589.4H909.8V1589.5H911.1V1594.8ZM918.2 1594.8V1585.1H920.9V1594.8ZM920.9 1594.8V1577.1H922.7V1594.8ZM922.7 1594.8V1583.6H924.2V1586.5H925.6V1585.5H927.1V1594.8ZM931.5 1594.8V1589.5H934.2V1594.8ZM934.2 1594.8V1582.4H936.0V1594.8ZM936.0 1594.8V1588.6H938.6V1594.8ZM938.6 1594.8V1591.3H941.3V1594.8ZM944.8 1594.8V1587.6H946.0V1588.4H947.2V1586.4H948.4V1594.8ZM948.4 1594.8V1591.7H950.1V1591.3H951.9V1594.8ZM951.9 1594.8V1588.2H953.1V1589.1H954.3V1588.4H955.5V1594.8ZM955.5 1594.8V1580.6H958.1V1594.8ZM958.1 1594.8V1574.4H959.9V1594.8ZM959.9 1594.8V1591.8H961.6V1592.0H963.4V1594.8ZM963.4 1594.8V1589.7H964.9V1588.9H966.4V1589.9H967.9V1594.8ZM972.3 1594.8V1591.0H973.6V1590.8H975.0V1590.6H976.3V1591.2H977.6V1590.4H979.0V1591.0H980.3V1594.8ZM980.3 1594.8V1585.1H981.8V1585.3H983.2V1586.8H984.7V1594.8ZM989.1 1594.8V1588.1H990.6V1587.9H992.1V1586.8H993.6V1594.8ZM993.6 1594.8V1582.8H995.4V1582.9H997.1V1594.8ZM997.1 1594.8V1587.4H998.3V1588.8H999.5V1588.6H1000.7V1594.8ZM1000.7 1594.8V1582.4H1003.3V1594.8ZM1003.3 1594.8V1589.3H1004.6V1589.6H1006.0V1589.9H1007.3V1589.9H1008.6V1594.8ZM1012.2 1594.8V1592.2H1013.7V1592.2H1015.1V1592.0H1016.6V1594.8ZM1019.3 1594.8V1588.1H1020.6V1589.4H1021.9V1588.7H1023.2V1588.3H1024.6V1589.6H1025.9V1588.7H1027.2V1594.8ZM1027.2 1594.8V1589.6H1028.6V1589.1H1030.0V1589.3H1031.5V1590.3H1032.9V1589.7H1034.3V1594.8ZM1034.3 1594.8V1589.1H1035.7V1588.4H1037.1V1588.4H1038.6V1589.1H1040.0V1588.4H1041.4V1594.8ZM1041.4 1594.8V1584.7H1042.8V1584.1H1044.2V1584.9H1045.7V1585.3H1047.1V1584.4H1048.5V1594.8ZM1048.5 1594.8V1586.6H1049.7V1587.4H1050.9V1586.1H1052.1V1594.8ZM1052.1 1594.8V1579.8H1054.7V1594.8ZM1054.7 1594.8V1574.4H1056.5V1594.8ZM1056.5 1594.8V1586.8H1058.3V1594.8ZM1060.9 1594.8V1587.2H1062.1V1587.6H1063.3V1586.9H1064.5V1594.8ZM1064.5 1594.8V1591.6H1065.9V1591.9H1067.3V1591.5H1068.7V1591.3H1070.0V1591.5H1071.4V1591.3H1072.8V1592.0H1074.2V1594.8ZM1076.9 1594.8V1592.1H1079.5V1594.8ZM1085.7 1594.8V1591.3H1088.4V1594.8ZM1088.4 1594.8V1581.5H1091.0V1594.8ZM1091.0 1594.8V1591.3H1092.8V1594.8ZM1105.2 1594.8V1585.7H1106.6V1585.8H1108.1V1586.7H1109.5V1594.8ZM1109.5 1594.8V1590.4H1111.1V1590.9H1112.7V1594.8ZM1115.8 1594.8V1587.4H1117.4V1587.2H1119.0V1594.8ZM1119.0 1594.8V1583.5H1120.6V1584.0H1122.2V1594.8ZM1128.5 1594.8V1590.6H1129.8V1590.9H1131.2V1590.5H1132.5V1589.7H1133.8V1594.8ZM1133.8 1594.8V1592.2H1135.1V1592.5H1136.4V1592.2H1137.8V1592.5H1139.1V1594.8ZM1139.1 1594.8V1587.4H1140.5V1587.1H1141.9V1586.3H1143.3V1594.8ZM1145.4 1594.8V1592.4H1146.7V1592.2H1148.1V1591.9H1149.4V1592.1H1150.7V1594.8ZM1153.9 1594.8V1587.1H1155.2V1587.1H1156.6V1587.6H1157.9V1587.6H1159.2V1594.8ZM1159.2 1594.8V1584.2H1160.6V1582.1H1162.0V1582.0H1163.4V1594.8ZM1163.4 1594.8V1580.4H1166.6V1594.8ZM1166.6 1594.8V1587.8H1169.7V1594.8ZM1172.9 1594.8V1581.5H1175.0V1594.8ZM1175.0 1594.8V1589.9H1177.1V1594.8ZM1180.3 1594.8V1587.6H1181.9V1586.4H1183.4V1588.5H1185.0V1588.2H1186.6V1594.8ZM1186.6 1594.8V1583.3H1188.0V1584.1H1189.5V1583.9H1190.9V1594.8ZM1190.9 1594.8V1586.2H1192.2V1588.2H1193.6V1588.1H1194.9V1588.0H1196.2V1594.8ZM1203.5 1594.8V1592.1H1204.9V1592.5H1206.4V1592.7H1207.8V1594.8ZM1207.8 1594.8V1588.2H1209.2V1588.5H1210.6V1588.8H1212.0V1594.8ZM1212.0 1594.8V1563.5H1214.1V1594.8ZM1214.1 1594.8V1577.3H1216.2V1594.8ZM1216.2 1594.8V1572.0H1218.3V1594.8ZM1218.3 1594.8V1589.3H1219.9V1589.0H1221.5V1594.8ZM1221.5 1594.8V1583.2H1223.1V1582.9H1224.7V1594.8ZM1224.7 1594.8V1587.2H1226.3V1586.6H1227.9V1594.8ZM1232.1 1594.8V1591.0H1234.2V1594.8ZM1237.4 1594.8V1586.2H1238.8V1587.8H1240.2V1587.7H1241.6V1594.8ZM1241.6 1594.8V1584.2H1242.9V1586.0H1244.1V1584.8H1245.4V1584.8H1246.6V1584.8H1247.9V1594.8ZM1247.9 1594.8V1578.3H1251.1V1594.8ZM1251.1 1594.8V1587.3H1252.5V1587.6H1253.9V1589.0H1255.3V1594.8ZM1255.3 1594.8V1577.9H1256.9V1578.6H1258.5V1594.8ZM1261.7 1594.8V1586.8H1264.8V1594.8ZM1264.8 1594.8V1575.1H1266.9V1594.8ZM1266.9 1594.8V1585.2H1268.3V1585.8H1269.8V1586.1H1271.2V1594.8ZM1271.2 1594.8V1592.8H1273.3V1594.8ZM1273.3 1594.8V1583.5H1274.9V1584.3H1276.5V1594.8ZM1276.5 1594.8V1592.3H1279.6V1594.8ZM1279.6 1594.8V1585.3H1281.0V1585.2H1282.5V1585.0H1283.9V1594.8ZM1283.9 1594.8V1589.0H1285.5V1588.3H1287.1V1589.1H1288.6V1589.2H1290.2V1594.8ZM1290.2 1594.8V1587.5H1291.8V1587.4H1293.4V1594.8ZM1296.5 1594.8V1585.8H1298.1V1587.4H1299.7V1594.8ZM1305.0 1594.8V1592.3H1306.3V1592.1H1307.7V1592.3H1309.0V1592.6H1310.3V1594.8ZM1310.3 1594.8V1588.7H1311.7V1588.7H1313.1V1590.1H1314.5V1594.8ZM1314.5 1594.8V1582.5H1316.1V1581.4H1317.7V1594.8ZM1317.7 1594.8V1587.7H1319.1V1588.5H1320.5V1587.8H1321.9V1594.8ZM1321.9 1594.8V1591.5H1323.4V1591.0H1324.9V1591.5H1326.3V1591.5H1327.8V1591.0H1329.3V1594.8ZM1343.0 1594.8V1588.7H1344.4V1588.7H1345.8V1589.2H1347.2V1589.5H1348.6V1588.9H1350.0V1589.1H1351.5V1588.7H1352.9V1588.8H1354.3V1590.0H1355.7V1589.5H1357.1V1589.0H1358.5V1589.8H1359.9V1594.8ZM1359.9 1594.8V1583.7H1361.3V1584.4H1362.8V1582.1H1364.2V1594.8ZM1364.2 1594.8V1584.1H1365.8V1584.0H1367.3V1586.5H1368.9V1584.8H1370.5V1594.8ZM1370.5 1594.8V1589.4H1372.1V1589.0H1373.7V1594.8ZM1373.7 1594.8V1586.8H1376.8V1594.8ZM1376.8 1594.8V1580.4H1379.0V1594.8ZM1379.0 1594.8V1587.6H1380.4V1586.3H1381.8V1586.2H1383.2V1594.8ZM1383.2 1594.8V1583.6H1386.3V1594.8ZM1386.3 1594.8V1588.4H1387.7V1586.8H1389.2V1588.3H1390.6V1594.8ZM1390.6 1594.8V1579.4H1393.7V1594.8ZM1393.7 1594.8V1586.8H1395.3V1586.1H1396.9V1594.8ZM1396.9 1594.8V1570.9H1399.0V1594.8ZM1399.0 1594.8V1576.2H1400.6V1574.7H1402.2V1594.8Z" fill="#ff3334"/>
<path d="M352.5 1707.50H363.9V1708.50H352.5ZM386.6 1707.50H389.1V1708.50H386.6ZM396.7 1707.50H404.2V1708.50H396.7ZM413.0 1707.50H432.0V1708.50H413.0ZM439.5 1707.50H452.0V1708.50H439.5ZM452.0 1707.20H460.0V1708.80H452.0ZM460.0 1707.50H472.3V1708.50H460.0ZM487.5 1707.50H503.8V1708.50H487.5ZM511.4 1707.50H521.5V1708.50H511.4ZM529.0 1707.50H530.5V1708.50H529.0ZM538.6 1707.50H546.2V1708.50H538.6ZM551.8 1707.50H556.8V1708.50H551.8ZM572.0 1707.50H579.5V1708.50H572.0ZM584.0 1707.50H594.6V1708.50H584.0ZM638.8 1707.50H643.8V1708.50H638.8ZM649.6 1707.50H655.2V1708.50H649.6ZM670.3 1707.50H674.1V1708.50H670.3ZM681.7 1707.50H694.0V1708.50H681.7ZM694.0 1707.25H699.0V1708.75H694.0ZM699.0 1707.50H706.0V1708.50H699.0ZM706.0 1707.25H711.0V1708.75H706.0ZM711.0 1707.35H729.0V1708.65H711.0ZM733.0 1707.50H737.0V1708.50H733.0ZM752.0 1707.50H756.0V1708.50H752.0ZM801.0 1707.50H815.0V1708.50H801.0ZM838.0 1707.50H845.0V1708.50H838.0ZM860.0 1707.50H864.0V1708.50H860.0ZM873.0 1707.50H880.0V1708.50H873.0ZM887.0 1707.50H895.0V1708.50H887.0ZM911.0 1707.50H919.0V1708.50H911.0ZM932.0 1707.50H937.0V1708.50H932.0ZM955.0 1707.50H960.0V1708.50H955.0ZM971.0 1707.50H981.0V1708.50H971.0ZM985.0 1707.25H1007.0V1708.75H985.0ZM1012.0 1707.30H1037.0V1708.70H1012.0ZM1045.0 1707.50H1048.0V1708.50H1045.0ZM1051.0 1707.50H1054.0V1708.50H1051.0ZM1057.0 1707.50H1060.0V1708.50H1057.0ZM1060.0 1707.50H1066.0V1708.50H1060.0ZM1070.0 1707.40H1085.0V1708.60H1070.0ZM1102.0 1707.35H1115.0V1708.65H1102.0ZM1121.0 1707.50H1123.0V1708.50H1121.0ZM1177.0 1707.50H1183.0V1708.50H1177.0ZM1189.0 1707.50H1193.0V1708.50H1189.0ZM1202.0 1707.50H1210.0V1708.50H1202.0ZM1216.0 1707.50H1220.0V1708.50H1216.0ZM1234.0 1707.50H1238.0V1708.50H1234.0ZM1242.0 1707.50H1250.0V1708.50H1242.0ZM1259.0 1707.20H1269.0V1708.80H1259.0ZM1271.0 1707.50H1278.0V1708.50H1271.0ZM1286.0 1707.50H1289.0V1708.50H1286.0ZM1308.0 1707.50H1314.0V1708.50H1308.0ZM1321.0 1707.50H1327.0V1708.50H1321.0ZM1347.0 1707.50H1352.0V1708.50H1347.0ZM1357.0 1707.50H1361.0V1708.50H1357.0ZM1380.0 1707.50H1386.0V1708.50H1380.0ZM1395.0 1707.50H1405.0V1708.50H1395.0Z" fill="#ff3334" fill-opacity="0.75"/>
<text x="834.80" y="1747.20" font-family="Liberation Sans" font-size="24.5" fill="#000" text-anchor="start" font-weight="normal" >mut</text>
<rect x="895.6" y="1728.2" width="2" height="21.5" fill="#0000bf"/>
<text x="659.40" y="1788.50" font-family="Liberation Sans" font-size="24.5" fill="#0000bf" text-anchor="start" font-weight="normal" >TAL1</text>
<text x="1058.40" y="1788.90" font-family="Liberation Sans" font-size="24.5" fill="#0000bf" text-anchor="start" font-weight="normal" >STIL</text>
<rect x="727.5" y="1773" width="40.50" height="15" fill="#0000bf"/>
<rect x="767.0" y="1769.1" width="6.00" height="22.6" fill="#0000bf"/>
<rect x="772.5" y="1780.3" width="142.00" height="2" fill="#0000bf"/>
<polyline points="789.60,1773.4 782.60,1781.3 789.60,1788.2" fill="none" stroke="#0000bf" stroke-width="1.6"/>
<polyline points="808.60,1773.4 801.60,1781.3 808.60,1788.2" fill="none" stroke="#0000bf" stroke-width="1.6"/>
<polyline points="854.40,1773.4 847.40,1781.3 854.40,1788.2" fill="none" stroke="#0000bf" stroke-width="1.6"/>
<polyline points="873.50,1773.4 866.50,1781.3 873.50,1788.2" fill="none" stroke="#0000bf" stroke-width="1.6"/>
<polyline points="903.50,1773.4 896.50,1781.3 903.50,1788.2" fill="none" stroke="#0000bf" stroke-width="1.6"/>
<rect x="818.00" y="1769.1" width="2" height="22.6" fill="#0000bf"/>
<rect x="878.80" y="1773" width="2" height="15" fill="#0000bf"/>
<rect x="884.30" y="1773" width="2" height="15" fill="#0000bf"/>
<rect x="913.00" y="1773" width="2" height="15" fill="#0000bf"/>
<rect x="835.6" y="1769.1" width="3.6" height="22.6" fill="#0000bf"/><rect x="839" y="1773" width="1.6" height="15" fill="#0000bf"/>
<rect x="1123.1" y="1773" width="12.40" height="15" fill="#0000bf"/>
<rect x="1134.5" y="1769.1" width="9.10" height="22.6" fill="#0000bf"/>
<rect x="1143.1" y="1780.3" width="261.70" height="2" fill="#0000bf"/>
<polyline points="1158.50,1773.4 1151.50,1781.3 1158.50,1788.2" fill="none" stroke="#0000bf" stroke-width="1.6"/>
<polyline points="1177.60,1773.4 1170.60,1781.3 1177.60,1788.2" fill="none" stroke="#0000bf" stroke-width="1.6"/>
<polyline points="1196.40,1773.4 1189.40,1781.3 1196.40,1788.2" fill="none" stroke="#0000bf" stroke-width="1.6"/>
<polyline points="1215.40,1773.4 1208.40,1781.3 1215.40,1788.2" fill="none" stroke="#0000bf" stroke-width="1.6"/>
<polyline points="1234.30,1773.4 1227.30,1781.3 1234.30,1788.2" fill="none" stroke="#0000bf" stroke-width="1.6"/>
<polyline points="1262.90,1773.4 1255.90,1781.3 1262.90,1788.2" fill="none" stroke="#0000bf" stroke-width="1.6"/>
<polyline points="1289.10,1773.4 1282.10,1781.3 1289.10,1788.2" fill="none" stroke="#0000bf" stroke-width="1.6"/>
<polyline points="1308.30,1773.4 1301.30,1781.3 1308.30,1788.2" fill="none" stroke="#0000bf" stroke-width="1.6"/>
<polyline points="1327.40,1773.4 1320.40,1781.3 1327.40,1788.2" fill="none" stroke="#0000bf" stroke-width="1.6"/>
<polyline points="1346.50,1773.4 1339.50,1781.3 1346.50,1788.2" fill="none" stroke="#0000bf" stroke-width="1.6"/>
<polyline points="1370.50,1773.4 1363.50,1781.3 1370.50,1788.2" fill="none" stroke="#0000bf" stroke-width="1.6"/>
<polyline points="1397.20,1773.4 1390.20,1781.3 1397.20,1788.2" fill="none" stroke="#0000bf" stroke-width="1.6"/>
<rect x="1241.80" y="1769.1" width="2" height="22.6" fill="#0000bf"/>
<rect x="1272.20" y="1769.1" width="2" height="22.6" fill="#0000bf"/>
<rect x="1351.50" y="1769.1" width="2" height="22.6" fill="#0000bf"/>
<rect x="1380.30" y="1769.1" width="2" height="22.6" fill="#0000bf"/>

</svg>
</body></html>
